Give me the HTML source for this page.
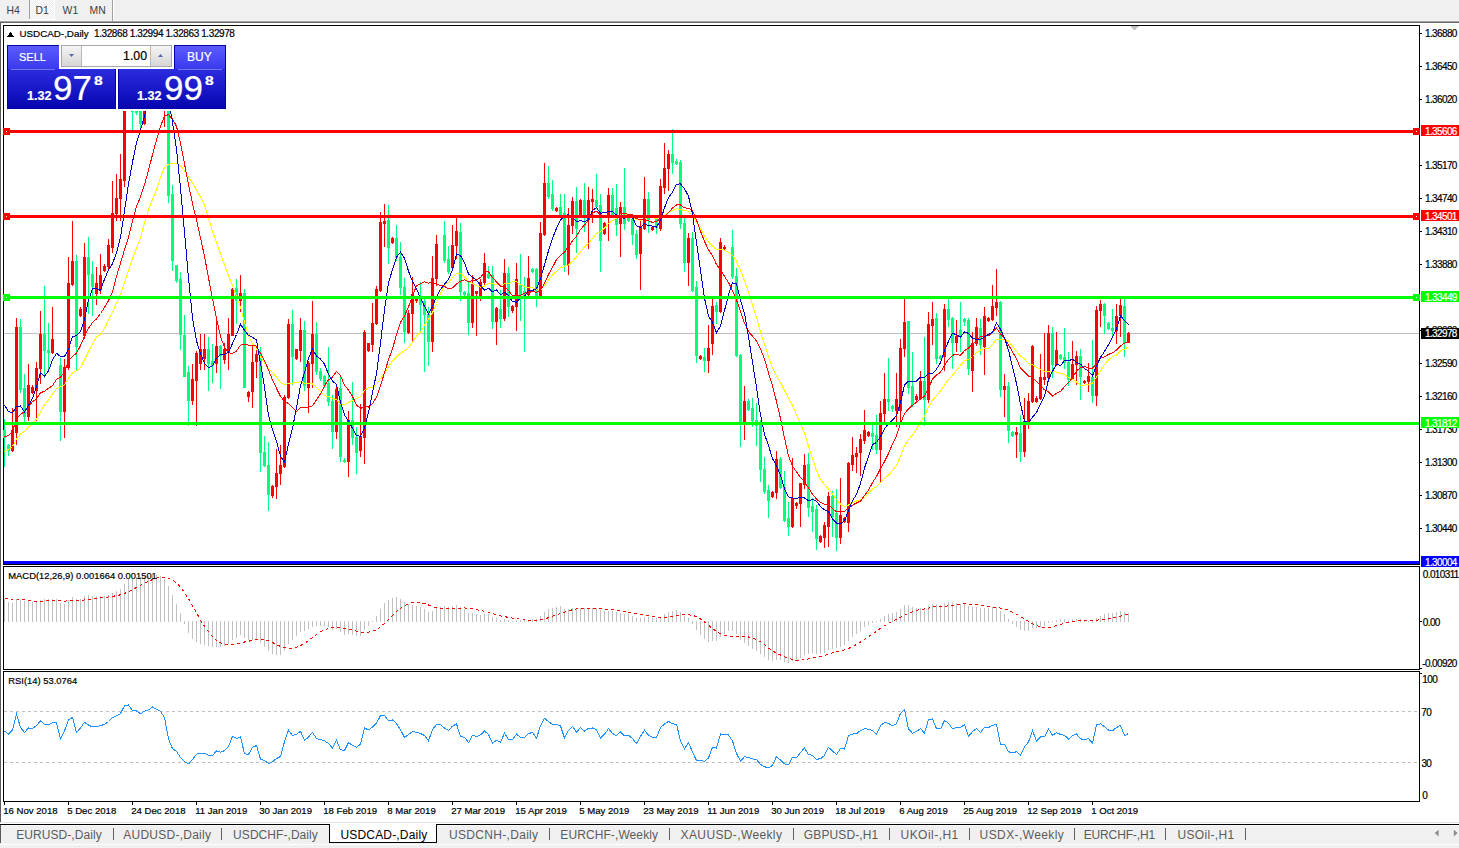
<!DOCTYPE html>
<html><head><meta charset="utf-8"><style>
html,body{margin:0;padding:0;width:1459px;height:848px;overflow:hidden;background:#fff;}
.t{position:absolute;white-space:nowrap;font-family:"Liberation Sans",sans-serif;line-height:1;-webkit-text-stroke:0.2px currentColor;}
.n{-webkit-text-stroke:0;}
</style></head><body>
<svg width="1459" height="848" viewBox="0 0 1459 848" style="position:absolute;left:0;top:0" shape-rendering="crispEdges"><rect x="0" y="0" width="1459" height="21" fill="#f0f0f0"/><rect x="0" y="20" width="1459" height="1" fill="#f6f6f6"/><rect x="0" y="21" width="1459" height="1" fill="#a0a0a0"/><rect x="0" y="22" width="1459" height="1" fill="#696969"/><defs><pattern id="ck" width="2" height="2" patternUnits="userSpaceOnUse"><rect width="2" height="2" fill="#ececec"/><rect width="1" height="1" fill="#fff"/><rect x="1" y="1" width="1" height="1" fill="#fff"/></pattern></defs><rect x="30" y="0" width="24" height="19" fill="url(#ck)"/><rect x="54" y="0" width="1" height="20" fill="#ffffff"/><rect x="29" y="19" width="26" height="1" fill="#ffffff"/><rect x="29" y="0" width="1" height="19" fill="#a0a0a0"/><rect x="112" y="0" width="1" height="21" fill="#a0a0a0"/><rect x="113" y="0" width="1" height="20" fill="#ffffff"/><rect x="0" y="23" width="1459" height="799" fill="#ffffff"/><rect x="0" y="23" width="1" height="799" fill="#5a5a5a"/><rect x="3" y="25" width="1417" height="1" fill="#000"/><rect x="3" y="564" width="1417" height="1" fill="#000"/><rect x="3" y="25" width="1" height="540" fill="#000"/><rect x="1419" y="25" width="1" height="540" fill="#000"/><rect x="3" y="566" width="1417" height="1" fill="#000"/><rect x="3" y="669" width="1417" height="1" fill="#000"/><rect x="3" y="566" width="1" height="104" fill="#000"/><rect x="1419" y="566" width="1" height="104" fill="#000"/><rect x="3" y="671" width="1417" height="1" fill="#000"/><rect x="3" y="801" width="1417" height="1" fill="#000"/><rect x="3" y="671" width="1" height="131" fill="#000"/><rect x="1419" y="671" width="1" height="131" fill="#000"/><rect x="1420" y="33" width="2" height="1" fill="#000"/><rect x="1420" y="66" width="2" height="1" fill="#000"/><rect x="1420" y="99" width="2" height="1" fill="#000"/><rect x="1420" y="165" width="2" height="1" fill="#000"/><rect x="1420" y="198" width="2" height="1" fill="#000"/><rect x="1420" y="231" width="2" height="1" fill="#000"/><rect x="1420" y="264" width="2" height="1" fill="#000"/><rect x="1420" y="330" width="2" height="1" fill="#000"/><rect x="1420" y="363" width="2" height="1" fill="#000"/><rect x="1420" y="396" width="2" height="1" fill="#000"/><rect x="1420" y="429" width="2" height="1" fill="#000"/><rect x="1420" y="462" width="2" height="1" fill="#000"/><rect x="1420" y="495" width="2" height="1" fill="#000"/><rect x="1420" y="528" width="2" height="1" fill="#000"/><rect x="4" y="333" width="1415" height="1" fill="#c0c0c0"/><rect x="1420" y="621" width="2" height="1" fill="#000"/><rect x="1420" y="668" width="2" height="1" fill="#000"/><rect x="1420" y="673" width="2" height="1" fill="#000"/><line x1="4" y1="711.5" x2="1419" y2="711.5" stroke="#c0c0c0" stroke-width="1" stroke-dasharray="3,3"/><line x1="4" y1="762.5" x2="1419" y2="762.5" stroke="#c0c0c0" stroke-width="1" stroke-dasharray="3,3"/><rect x="4" y="802" width="1" height="3" fill="#000"/><rect x="68" y="802" width="1" height="3" fill="#000"/><rect x="132" y="802" width="1" height="3" fill="#000"/><rect x="196" y="802" width="1" height="3" fill="#000"/><rect x="260" y="802" width="1" height="3" fill="#000"/><rect x="324" y="802" width="1" height="3" fill="#000"/><rect x="388" y="802" width="1" height="3" fill="#000"/><rect x="452" y="802" width="1" height="3" fill="#000"/><rect x="516" y="802" width="1" height="3" fill="#000"/><rect x="580" y="802" width="1" height="3" fill="#000"/><rect x="644" y="802" width="1" height="3" fill="#000"/><rect x="708" y="802" width="1" height="3" fill="#000"/><rect x="772" y="802" width="1" height="3" fill="#000"/><rect x="836" y="802" width="1" height="3" fill="#000"/><rect x="900" y="802" width="1" height="3" fill="#000"/><rect x="964" y="802" width="1" height="3" fill="#000"/><rect x="1028" y="802" width="1" height="3" fill="#000"/><rect x="1092" y="802" width="1" height="3" fill="#000"/><path d="M1130 26 L1139 26 L1134.5 30.5 Z" fill="#c0c0c0" shape-rendering="auto"/><path d="M7 36.5 L10.5 32 L14 36.5 Z" fill="#000"/><rect x="0" y="822" width="1459" height="1" fill="#e3e3e3"/><rect x="0" y="823" width="1459" height="1" fill="#ffffff"/><rect x="0" y="824" width="1459" height="1" fill="#000"/><rect x="0" y="825" width="1459" height="1" fill="#fafafa"/><rect x="0" y="826" width="1459" height="18" fill="#f0f0f0"/><rect x="0" y="844" width="1459" height="1" fill="#ffffff"/><rect x="0" y="845" width="1459" height="3" fill="#f0f0f0"/><rect x="0" y="825" width="1" height="18" fill="#5a5a5a"/><rect x="113" y="828" width="1" height="12" fill="#606060"/><rect x="221" y="828" width="1" height="12" fill="#606060"/><rect x="549" y="828" width="1" height="12" fill="#606060"/><rect x="669" y="828" width="1" height="12" fill="#606060"/><rect x="793" y="828" width="1" height="12" fill="#606060"/><rect x="889" y="828" width="1" height="12" fill="#606060"/><rect x="969" y="828" width="1" height="12" fill="#606060"/><rect x="1074" y="828" width="1" height="12" fill="#606060"/><rect x="1165" y="828" width="1" height="12" fill="#606060"/><rect x="1245" y="828" width="1" height="12" fill="#606060"/><rect x="329" y="824" width="108" height="19" fill="#000"/><rect x="330" y="824" width="106" height="18" fill="#fff"/><path d="M1434.8 833 L1438.6 829.8 L1438.6 836.4 Z" fill="#8c8c8c" shape-rendering="auto"/><path d="M1457.6 833 L1453.8 829.8 L1453.8 836.4 Z" fill="#8c8c8c" shape-rendering="auto"/><rect x="4" y="419" width="1" height="48" fill="#00ff7f"/><rect x="3" y="430" width="3" height="8" fill="#00ff7f"/><rect x="8" y="444" width="1" height="12" fill="#00ff7f"/><rect x="7" y="445" width="3" height="6" fill="#00ff7f"/><rect x="12" y="408" width="1" height="44" fill="#ff0000"/><rect x="11" y="430" width="3" height="21" fill="#ff0000"/><rect x="16" y="318" width="1" height="127" fill="#ff0000"/><rect x="15" y="327" width="3" height="106" fill="#ff0000"/><rect x="20" y="319" width="1" height="74" fill="#00ff7f"/><rect x="19" y="327" width="3" height="63" fill="#00ff7f"/><rect x="24" y="374" width="1" height="49" fill="#00ff7f"/><rect x="23" y="388" width="3" height="29" fill="#00ff7f"/><rect x="28" y="364" width="1" height="57" fill="#ff0000"/><rect x="27" y="385" width="3" height="32" fill="#ff0000"/><rect x="32" y="385" width="1" height="9" fill="#ff0000"/><rect x="31" y="387" width="3" height="6" fill="#ff0000"/><rect x="36" y="362" width="1" height="59" fill="#ff0000"/><rect x="35" y="368" width="3" height="23" fill="#ff0000"/><rect x="40" y="311" width="1" height="73" fill="#ff0000"/><rect x="39" y="334" width="3" height="35" fill="#ff0000"/><rect x="44" y="286" width="1" height="92" fill="#00ff7f"/><rect x="43" y="334" width="3" height="17" fill="#00ff7f"/><rect x="48" y="323" width="1" height="46" fill="#00ff7f"/><rect x="47" y="350" width="3" height="3" fill="#00ff7f"/><rect x="52" y="307" width="1" height="47" fill="#ff0000"/><rect x="51" y="339" width="3" height="14" fill="#ff0000"/><rect x="60" y="358" width="1" height="83" fill="#00ff7f"/><rect x="59" y="365" width="3" height="47" fill="#00ff7f"/><rect x="64" y="359" width="1" height="79" fill="#ff0000"/><rect x="63" y="367" width="3" height="45" fill="#ff0000"/><rect x="68" y="257" width="1" height="113" fill="#ff0000"/><rect x="67" y="283" width="3" height="85" fill="#ff0000"/><rect x="72" y="221" width="1" height="65" fill="#ff0000"/><rect x="71" y="261" width="3" height="24" fill="#ff0000"/><rect x="76" y="255" width="1" height="115" fill="#00ff7f"/><rect x="75" y="261" width="3" height="86" fill="#00ff7f"/><rect x="80" y="307" width="1" height="10" fill="#ff0000"/><rect x="79" y="309" width="3" height="7" fill="#ff0000"/><rect x="84" y="243" width="1" height="96" fill="#ff0000"/><rect x="83" y="257" width="3" height="79" fill="#ff0000"/><rect x="88" y="237" width="1" height="77" fill="#00ff7f"/><rect x="87" y="257" width="3" height="18" fill="#00ff7f"/><rect x="92" y="261" width="1" height="55" fill="#00ff7f"/><rect x="91" y="274" width="3" height="13" fill="#00ff7f"/><rect x="96" y="267" width="1" height="38" fill="#ff0000"/><rect x="95" y="283" width="3" height="11" fill="#ff0000"/><rect x="100" y="254" width="1" height="40" fill="#ff0000"/><rect x="99" y="275" width="3" height="15" fill="#ff0000"/><rect x="104" y="264" width="1" height="8" fill="#ff0000"/><rect x="103" y="266" width="3" height="5" fill="#ff0000"/><rect x="108" y="239" width="1" height="30" fill="#ff0000"/><rect x="107" y="245" width="3" height="22" fill="#ff0000"/><rect x="112" y="181" width="1" height="72" fill="#ff0000"/><rect x="111" y="213" width="3" height="35" fill="#ff0000"/><rect x="116" y="174" width="1" height="47" fill="#ff0000"/><rect x="115" y="198" width="3" height="16" fill="#ff0000"/><rect x="120" y="154" width="1" height="67" fill="#ff0000"/><rect x="119" y="179" width="3" height="20" fill="#ff0000"/><rect x="124" y="78" width="1" height="109" fill="#ff0000"/><rect x="123" y="86" width="3" height="95" fill="#ff0000"/><rect x="128" y="80" width="1" height="9" fill="#ff0000"/><rect x="127" y="82" width="3" height="5" fill="#ff0000"/><rect x="132" y="70" width="1" height="61" fill="#00ff7f"/><rect x="131" y="78" width="3" height="34" fill="#00ff7f"/><rect x="136" y="105" width="1" height="10" fill="#00ff7f"/><rect x="135" y="108" width="3" height="5" fill="#00ff7f"/><rect x="140" y="88" width="1" height="42" fill="#00ff7f"/><rect x="139" y="100" width="3" height="24" fill="#00ff7f"/><rect x="144" y="85" width="1" height="40" fill="#ff0000"/><rect x="143" y="92" width="3" height="32" fill="#ff0000"/><rect x="148" y="68" width="1" height="29" fill="#ff0000"/><rect x="147" y="76" width="3" height="18" fill="#ff0000"/><rect x="152" y="70" width="1" height="9" fill="#ff0000"/><rect x="151" y="72" width="3" height="5" fill="#ff0000"/><rect x="156" y="50" width="1" height="36" fill="#ff0000"/><rect x="155" y="60" width="3" height="15" fill="#ff0000"/><rect x="160" y="55" width="1" height="36" fill="#00ff7f"/><rect x="159" y="60" width="3" height="21" fill="#00ff7f"/><rect x="164" y="75" width="1" height="52" fill="#ff0000"/><rect x="163" y="82" width="3" height="21" fill="#ff0000"/><rect x="168" y="95" width="1" height="108" fill="#00ff7f"/><rect x="167" y="100" width="3" height="96" fill="#00ff7f"/><rect x="172" y="185" width="1" height="86" fill="#00ff7f"/><rect x="171" y="194" width="3" height="67" fill="#00ff7f"/><rect x="176" y="265" width="1" height="18" fill="#00ff7f"/><rect x="175" y="265" width="3" height="16" fill="#00ff7f"/><rect x="180" y="272" width="1" height="78" fill="#00ff7f"/><rect x="179" y="279" width="3" height="56" fill="#00ff7f"/><rect x="184" y="315" width="1" height="62" fill="#00ff7f"/><rect x="183" y="335" width="3" height="42" fill="#00ff7f"/><rect x="188" y="366" width="1" height="60" fill="#00ff7f"/><rect x="187" y="372" width="3" height="29" fill="#00ff7f"/><rect x="192" y="364" width="1" height="41" fill="#ff0000"/><rect x="191" y="379" width="3" height="22" fill="#ff0000"/><rect x="196" y="351" width="1" height="75" fill="#ff0000"/><rect x="195" y="353" width="3" height="28" fill="#ff0000"/><rect x="200" y="334" width="1" height="36" fill="#ff0000"/><rect x="199" y="349" width="3" height="15" fill="#ff0000"/><rect x="204" y="334" width="1" height="36" fill="#ff0000"/><rect x="203" y="349" width="3" height="10" fill="#ff0000"/><rect x="208" y="337" width="1" height="54" fill="#00ff7f"/><rect x="207" y="349" width="3" height="15" fill="#00ff7f"/><rect x="212" y="344" width="1" height="39" fill="#00ff7f"/><rect x="211" y="361" width="3" height="5" fill="#00ff7f"/><rect x="216" y="319" width="1" height="54" fill="#ff0000"/><rect x="215" y="346" width="3" height="18" fill="#ff0000"/><rect x="220" y="345" width="1" height="44" fill="#00ff7f"/><rect x="219" y="346" width="3" height="10" fill="#00ff7f"/><rect x="224" y="343" width="1" height="21" fill="#ff0000"/><rect x="223" y="349" width="3" height="11" fill="#ff0000"/><rect x="228" y="318" width="1" height="52" fill="#ff0000"/><rect x="227" y="334" width="3" height="18" fill="#ff0000"/><rect x="232" y="288" width="1" height="48" fill="#ff0000"/><rect x="231" y="289" width="3" height="47" fill="#ff0000"/><rect x="236" y="279" width="1" height="45" fill="#00ff7f"/><rect x="235" y="288" width="3" height="13" fill="#00ff7f"/><rect x="240" y="275" width="1" height="37" fill="#ff0000"/><rect x="239" y="293" width="3" height="8" fill="#ff0000"/><rect x="244" y="289" width="1" height="99" fill="#00ff7f"/><rect x="243" y="293" width="3" height="95" fill="#00ff7f"/><rect x="248" y="391" width="1" height="11" fill="#ff0000"/><rect x="247" y="392" width="3" height="5" fill="#ff0000"/><rect x="252" y="345" width="1" height="63" fill="#ff0000"/><rect x="251" y="362" width="3" height="30" fill="#ff0000"/><rect x="256" y="346" width="1" height="32" fill="#ff0000"/><rect x="255" y="354" width="3" height="8" fill="#ff0000"/><rect x="260" y="347" width="1" height="125" fill="#00ff7f"/><rect x="259" y="353" width="3" height="100" fill="#00ff7f"/><rect x="264" y="436" width="1" height="31" fill="#00ff7f"/><rect x="263" y="452" width="3" height="14" fill="#00ff7f"/><rect x="268" y="442" width="1" height="69" fill="#00ff7f"/><rect x="267" y="465" width="3" height="30" fill="#00ff7f"/><rect x="272" y="485" width="1" height="13" fill="#ff0000"/><rect x="271" y="486" width="3" height="10" fill="#ff0000"/><rect x="276" y="449" width="1" height="50" fill="#ff0000"/><rect x="275" y="473" width="3" height="14" fill="#ff0000"/><rect x="280" y="445" width="1" height="40" fill="#ff0000"/><rect x="279" y="465" width="3" height="9" fill="#ff0000"/><rect x="284" y="395" width="1" height="73" fill="#ff0000"/><rect x="283" y="397" width="3" height="70" fill="#ff0000"/><rect x="288" y="319" width="1" height="80" fill="#ff0000"/><rect x="287" y="324" width="3" height="74" fill="#ff0000"/><rect x="292" y="310" width="1" height="75" fill="#00ff7f"/><rect x="291" y="324" width="3" height="33" fill="#00ff7f"/><rect x="296" y="349" width="1" height="11" fill="#ff0000"/><rect x="295" y="349" width="3" height="10" fill="#ff0000"/><rect x="300" y="318" width="1" height="44" fill="#ff0000"/><rect x="299" y="330" width="3" height="21" fill="#ff0000"/><rect x="304" y="321" width="1" height="70" fill="#00ff7f"/><rect x="303" y="330" width="3" height="56" fill="#00ff7f"/><rect x="308" y="361" width="1" height="52" fill="#ff0000"/><rect x="307" y="363" width="3" height="25" fill="#ff0000"/><rect x="312" y="301" width="1" height="87" fill="#ff0000"/><rect x="311" y="334" width="3" height="30" fill="#ff0000"/><rect x="316" y="322" width="1" height="53" fill="#00ff7f"/><rect x="315" y="334" width="3" height="38" fill="#00ff7f"/><rect x="320" y="368" width="1" height="13" fill="#00ff7f"/><rect x="319" y="371" width="3" height="8" fill="#00ff7f"/><rect x="324" y="375" width="1" height="13" fill="#00ff7f"/><rect x="323" y="376" width="3" height="10" fill="#00ff7f"/><rect x="328" y="347" width="1" height="59" fill="#00ff7f"/><rect x="327" y="383" width="3" height="19" fill="#00ff7f"/><rect x="332" y="395" width="1" height="54" fill="#00ff7f"/><rect x="331" y="401" width="3" height="31" fill="#00ff7f"/><rect x="336" y="385" width="1" height="54" fill="#ff0000"/><rect x="335" y="389" width="3" height="43" fill="#ff0000"/><rect x="340" y="377" width="1" height="85" fill="#00ff7f"/><rect x="339" y="388" width="3" height="69" fill="#00ff7f"/><rect x="344" y="458" width="1" height="5" fill="#00ff7f"/><rect x="343" y="460" width="3" height="2" fill="#00ff7f"/><rect x="348" y="411" width="1" height="66" fill="#ff0000"/><rect x="347" y="420" width="3" height="42" fill="#ff0000"/><rect x="352" y="382" width="1" height="63" fill="#00ff7f"/><rect x="351" y="420" width="3" height="18" fill="#00ff7f"/><rect x="356" y="427" width="1" height="47" fill="#00ff7f"/><rect x="355" y="437" width="3" height="16" fill="#00ff7f"/><rect x="360" y="404" width="1" height="53" fill="#ff0000"/><rect x="359" y="436" width="3" height="15" fill="#ff0000"/><rect x="364" y="330" width="1" height="134" fill="#ff0000"/><rect x="363" y="332" width="3" height="106" fill="#ff0000"/><rect x="368" y="343" width="1" height="9" fill="#ff0000"/><rect x="367" y="343" width="3" height="8" fill="#ff0000"/><rect x="372" y="303" width="1" height="49" fill="#ff0000"/><rect x="371" y="323" width="3" height="22" fill="#ff0000"/><rect x="376" y="286" width="1" height="39" fill="#ff0000"/><rect x="375" y="289" width="3" height="35" fill="#ff0000"/><rect x="380" y="212" width="1" height="80" fill="#ff0000"/><rect x="379" y="222" width="3" height="69" fill="#ff0000"/><rect x="384" y="204" width="1" height="43" fill="#ff0000"/><rect x="383" y="221" width="3" height="3" fill="#ff0000"/><rect x="388" y="205" width="1" height="59" fill="#00ff7f"/><rect x="387" y="220" width="3" height="28" fill="#00ff7f"/><rect x="392" y="237" width="1" height="7" fill="#ff0000"/><rect x="391" y="238" width="3" height="5" fill="#ff0000"/><rect x="396" y="225" width="1" height="36" fill="#00ff7f"/><rect x="395" y="238" width="3" height="20" fill="#00ff7f"/><rect x="400" y="242" width="1" height="53" fill="#00ff7f"/><rect x="399" y="257" width="3" height="31" fill="#00ff7f"/><rect x="404" y="278" width="1" height="65" fill="#00ff7f"/><rect x="403" y="287" width="3" height="45" fill="#00ff7f"/><rect x="408" y="310" width="1" height="24" fill="#ff0000"/><rect x="407" y="313" width="3" height="20" fill="#ff0000"/><rect x="412" y="277" width="1" height="65" fill="#ff0000"/><rect x="411" y="294" width="3" height="20" fill="#ff0000"/><rect x="416" y="296" width="1" height="7" fill="#ff0000"/><rect x="415" y="298" width="3" height="3" fill="#ff0000"/><rect x="420" y="282" width="1" height="51" fill="#00ff7f"/><rect x="419" y="298" width="3" height="7" fill="#00ff7f"/><rect x="424" y="298" width="1" height="74" fill="#00ff7f"/><rect x="423" y="301" width="3" height="14" fill="#00ff7f"/><rect x="428" y="307" width="1" height="59" fill="#00ff7f"/><rect x="427" y="314" width="3" height="28" fill="#00ff7f"/><rect x="432" y="256" width="1" height="96" fill="#ff0000"/><rect x="431" y="278" width="3" height="64" fill="#ff0000"/><rect x="436" y="235" width="1" height="51" fill="#ff0000"/><rect x="435" y="244" width="3" height="35" fill="#ff0000"/><rect x="444" y="221" width="1" height="42" fill="#00ff7f"/><rect x="443" y="235" width="3" height="26" fill="#00ff7f"/><rect x="448" y="246" width="1" height="28" fill="#00ff7f"/><rect x="447" y="259" width="3" height="13" fill="#00ff7f"/><rect x="452" y="225" width="1" height="44" fill="#ff0000"/><rect x="451" y="245" width="3" height="23" fill="#ff0000"/><rect x="456" y="217" width="1" height="42" fill="#ff0000"/><rect x="455" y="231" width="3" height="15" fill="#ff0000"/><rect x="460" y="223" width="1" height="78" fill="#00ff7f"/><rect x="459" y="232" width="3" height="60" fill="#00ff7f"/><rect x="464" y="291" width="1" height="5" fill="#00ff7f"/><rect x="463" y="292" width="3" height="3" fill="#00ff7f"/><rect x="468" y="282" width="1" height="53" fill="#00ff7f"/><rect x="467" y="293" width="3" height="30" fill="#00ff7f"/><rect x="472" y="275" width="1" height="53" fill="#ff0000"/><rect x="471" y="284" width="3" height="39" fill="#ff0000"/><rect x="476" y="291" width="1" height="45" fill="#ff0000"/><rect x="475" y="291" width="3" height="3" fill="#ff0000"/><rect x="480" y="279" width="1" height="22" fill="#ff0000"/><rect x="479" y="282" width="3" height="14" fill="#ff0000"/><rect x="484" y="253" width="1" height="33" fill="#ff0000"/><rect x="483" y="263" width="3" height="20" fill="#ff0000"/><rect x="488" y="266" width="1" height="13" fill="#00ff7f"/><rect x="487" y="274" width="3" height="4" fill="#00ff7f"/><rect x="492" y="266" width="1" height="63" fill="#00ff7f"/><rect x="491" y="275" width="3" height="47" fill="#00ff7f"/><rect x="496" y="307" width="1" height="38" fill="#ff0000"/><rect x="495" y="308" width="3" height="14" fill="#ff0000"/><rect x="500" y="290" width="1" height="38" fill="#00ff7f"/><rect x="499" y="309" width="3" height="10" fill="#00ff7f"/><rect x="504" y="259" width="1" height="62" fill="#ff0000"/><rect x="503" y="273" width="3" height="46" fill="#ff0000"/><rect x="508" y="267" width="1" height="50" fill="#00ff7f"/><rect x="507" y="273" width="3" height="34" fill="#00ff7f"/><rect x="512" y="305" width="1" height="8" fill="#ff0000"/><rect x="511" y="306" width="3" height="5" fill="#ff0000"/><rect x="516" y="263" width="1" height="68" fill="#ff0000"/><rect x="515" y="279" width="3" height="28" fill="#ff0000"/><rect x="520" y="254" width="1" height="67" fill="#00ff7f"/><rect x="519" y="285" width="3" height="10" fill="#00ff7f"/><rect x="524" y="277" width="1" height="75" fill="#00ff7f"/><rect x="523" y="291" width="3" height="5" fill="#00ff7f"/><rect x="528" y="256" width="1" height="40" fill="#ff0000"/><rect x="527" y="278" width="3" height="17" fill="#ff0000"/><rect x="532" y="268" width="1" height="5" fill="#00ff7f"/><rect x="531" y="269" width="3" height="3" fill="#00ff7f"/><rect x="536" y="268" width="1" height="39" fill="#00ff7f"/><rect x="535" y="269" width="3" height="28" fill="#00ff7f"/><rect x="540" y="222" width="1" height="76" fill="#ff0000"/><rect x="539" y="233" width="3" height="64" fill="#ff0000"/><rect x="544" y="163" width="1" height="73" fill="#ff0000"/><rect x="543" y="183" width="3" height="52" fill="#ff0000"/><rect x="548" y="166" width="1" height="33" fill="#00ff7f"/><rect x="547" y="183" width="3" height="14" fill="#00ff7f"/><rect x="552" y="180" width="1" height="31" fill="#00ff7f"/><rect x="551" y="194" width="3" height="15" fill="#00ff7f"/><rect x="556" y="207" width="1" height="5" fill="#ff0000"/><rect x="555" y="208" width="3" height="3" fill="#ff0000"/><rect x="560" y="194" width="1" height="22" fill="#00ff7f"/><rect x="559" y="207" width="3" height="8" fill="#00ff7f"/><rect x="564" y="194" width="1" height="78" fill="#00ff7f"/><rect x="563" y="213" width="3" height="52" fill="#00ff7f"/><rect x="568" y="208" width="1" height="67" fill="#ff0000"/><rect x="567" y="225" width="3" height="40" fill="#ff0000"/><rect x="572" y="197" width="1" height="37" fill="#ff0000"/><rect x="571" y="201" width="3" height="25" fill="#ff0000"/><rect x="576" y="187" width="1" height="66" fill="#00ff7f"/><rect x="575" y="201" width="3" height="28" fill="#00ff7f"/><rect x="580" y="199" width="1" height="17" fill="#ff0000"/><rect x="579" y="200" width="3" height="15" fill="#ff0000"/><rect x="584" y="183" width="1" height="49" fill="#00ff7f"/><rect x="583" y="200" width="3" height="17" fill="#00ff7f"/><rect x="588" y="187" width="1" height="62" fill="#ff0000"/><rect x="587" y="200" width="3" height="20" fill="#ff0000"/><rect x="592" y="189" width="1" height="34" fill="#ff0000"/><rect x="591" y="199" width="3" height="3" fill="#ff0000"/><rect x="596" y="174" width="1" height="35" fill="#00ff7f"/><rect x="595" y="200" width="3" height="7" fill="#00ff7f"/><rect x="600" y="194" width="1" height="78" fill="#00ff7f"/><rect x="599" y="205" width="3" height="36" fill="#00ff7f"/><rect x="604" y="222" width="1" height="13" fill="#ff0000"/><rect x="603" y="223" width="3" height="11" fill="#ff0000"/><rect x="608" y="188" width="1" height="53" fill="#ff0000"/><rect x="607" y="195" width="3" height="22" fill="#ff0000"/><rect x="612" y="188" width="1" height="30" fill="#00ff7f"/><rect x="611" y="195" width="3" height="21" fill="#00ff7f"/><rect x="616" y="184" width="1" height="52" fill="#00ff7f"/><rect x="615" y="208" width="3" height="17" fill="#00ff7f"/><rect x="620" y="202" width="1" height="55" fill="#ff0000"/><rect x="619" y="207" width="3" height="17" fill="#ff0000"/><rect x="624" y="168" width="1" height="62" fill="#00ff7f"/><rect x="623" y="207" width="3" height="17" fill="#00ff7f"/><rect x="628" y="216" width="1" height="6" fill="#00ff7f"/><rect x="627" y="218" width="3" height="3" fill="#00ff7f"/><rect x="632" y="215" width="1" height="30" fill="#00ff7f"/><rect x="631" y="219" width="3" height="16" fill="#00ff7f"/><rect x="636" y="230" width="1" height="29" fill="#00ff7f"/><rect x="635" y="234" width="3" height="21" fill="#00ff7f"/><rect x="640" y="220" width="1" height="70" fill="#ff0000"/><rect x="639" y="226" width="3" height="28" fill="#ff0000"/><rect x="644" y="177" width="1" height="53" fill="#ff0000"/><rect x="643" y="199" width="3" height="30" fill="#ff0000"/><rect x="648" y="192" width="1" height="41" fill="#00ff7f"/><rect x="647" y="199" width="3" height="21" fill="#00ff7f"/><rect x="652" y="226" width="1" height="5" fill="#ff0000"/><rect x="651" y="227" width="3" height="3" fill="#ff0000"/><rect x="656" y="217" width="1" height="17" fill="#00ff7f"/><rect x="655" y="219" width="3" height="9" fill="#00ff7f"/><rect x="660" y="179" width="1" height="52" fill="#ff0000"/><rect x="659" y="186" width="3" height="43" fill="#ff0000"/><rect x="664" y="143" width="1" height="51" fill="#ff0000"/><rect x="663" y="168" width="3" height="20" fill="#ff0000"/><rect x="668" y="150" width="1" height="41" fill="#ff0000"/><rect x="667" y="154" width="3" height="15" fill="#ff0000"/><rect x="672" y="129" width="1" height="45" fill="#00ff7f"/><rect x="671" y="154" width="3" height="9" fill="#00ff7f"/><rect x="676" y="159" width="1" height="6" fill="#00ff7f"/><rect x="675" y="161" width="3" height="3" fill="#00ff7f"/><rect x="680" y="160" width="1" height="69" fill="#00ff7f"/><rect x="679" y="162" width="3" height="62" fill="#00ff7f"/><rect x="684" y="217" width="1" height="55" fill="#00ff7f"/><rect x="683" y="223" width="3" height="40" fill="#00ff7f"/><rect x="688" y="233" width="1" height="53" fill="#ff0000"/><rect x="687" y="238" width="3" height="25" fill="#ff0000"/><rect x="692" y="232" width="1" height="60" fill="#00ff7f"/><rect x="691" y="238" width="3" height="53" fill="#00ff7f"/><rect x="696" y="281" width="1" height="82" fill="#00ff7f"/><rect x="695" y="287" width="3" height="69" fill="#00ff7f"/><rect x="700" y="355" width="1" height="5" fill="#ff0000"/><rect x="699" y="356" width="3" height="3" fill="#ff0000"/><rect x="704" y="348" width="1" height="24" fill="#00ff7f"/><rect x="703" y="357" width="3" height="4" fill="#00ff7f"/><rect x="708" y="325" width="1" height="48" fill="#ff0000"/><rect x="707" y="348" width="3" height="13" fill="#ff0000"/><rect x="712" y="299" width="1" height="56" fill="#ff0000"/><rect x="711" y="306" width="3" height="38" fill="#ff0000"/><rect x="716" y="302" width="1" height="22" fill="#00ff7f"/><rect x="715" y="305" width="3" height="7" fill="#00ff7f"/><rect x="720" y="238" width="1" height="75" fill="#ff0000"/><rect x="719" y="242" width="3" height="70" fill="#ff0000"/><rect x="724" y="245" width="1" height="6" fill="#ff0000"/><rect x="723" y="247" width="3" height="2" fill="#ff0000"/><rect x="732" y="230" width="1" height="49" fill="#00ff7f"/><rect x="731" y="247" width="3" height="30" fill="#00ff7f"/><rect x="736" y="268" width="1" height="89" fill="#00ff7f"/><rect x="735" y="276" width="3" height="80" fill="#00ff7f"/><rect x="740" y="354" width="1" height="93" fill="#00ff7f"/><rect x="739" y="355" width="3" height="68" fill="#00ff7f"/><rect x="744" y="386" width="1" height="54" fill="#ff0000"/><rect x="743" y="401" width="3" height="22" fill="#ff0000"/><rect x="748" y="399" width="1" height="12" fill="#00ff7f"/><rect x="747" y="401" width="3" height="9" fill="#00ff7f"/><rect x="752" y="398" width="1" height="29" fill="#00ff7f"/><rect x="751" y="408" width="3" height="13" fill="#00ff7f"/><rect x="756" y="403" width="1" height="43" fill="#00ff7f"/><rect x="755" y="420" width="3" height="6" fill="#00ff7f"/><rect x="760" y="420" width="1" height="62" fill="#00ff7f"/><rect x="759" y="424" width="3" height="46" fill="#00ff7f"/><rect x="764" y="457" width="1" height="37" fill="#00ff7f"/><rect x="763" y="469" width="3" height="23" fill="#00ff7f"/><rect x="768" y="485" width="1" height="33" fill="#00ff7f"/><rect x="767" y="490" width="3" height="11" fill="#00ff7f"/><rect x="772" y="491" width="1" height="7" fill="#ff0000"/><rect x="771" y="492" width="3" height="5" fill="#ff0000"/><rect x="776" y="451" width="1" height="48" fill="#ff0000"/><rect x="775" y="459" width="3" height="34" fill="#ff0000"/><rect x="780" y="457" width="1" height="32" fill="#00ff7f"/><rect x="779" y="459" width="3" height="29" fill="#00ff7f"/><rect x="784" y="471" width="1" height="51" fill="#00ff7f"/><rect x="783" y="487" width="3" height="34" fill="#00ff7f"/><rect x="788" y="502" width="1" height="34" fill="#00ff7f"/><rect x="787" y="518" width="3" height="9" fill="#00ff7f"/><rect x="792" y="458" width="1" height="70" fill="#ff0000"/><rect x="791" y="498" width="3" height="29" fill="#ff0000"/><rect x="796" y="502" width="1" height="7" fill="#ff0000"/><rect x="795" y="503" width="3" height="3" fill="#ff0000"/><rect x="800" y="483" width="1" height="44" fill="#ff0000"/><rect x="799" y="483" width="3" height="21" fill="#ff0000"/><rect x="804" y="454" width="1" height="35" fill="#ff0000"/><rect x="803" y="465" width="3" height="20" fill="#ff0000"/><rect x="808" y="453" width="1" height="64" fill="#00ff7f"/><rect x="807" y="464" width="3" height="44" fill="#00ff7f"/><rect x="812" y="498" width="1" height="34" fill="#00ff7f"/><rect x="811" y="506" width="3" height="6" fill="#00ff7f"/><rect x="816" y="505" width="1" height="45" fill="#00ff7f"/><rect x="815" y="509" width="3" height="30" fill="#00ff7f"/><rect x="820" y="535" width="1" height="8" fill="#ff0000"/><rect x="819" y="536" width="3" height="6" fill="#ff0000"/><rect x="824" y="522" width="1" height="26" fill="#ff0000"/><rect x="823" y="525" width="3" height="13" fill="#ff0000"/><rect x="828" y="492" width="1" height="55" fill="#ff0000"/><rect x="827" y="496" width="3" height="31" fill="#ff0000"/><rect x="832" y="491" width="1" height="46" fill="#00ff7f"/><rect x="831" y="496" width="3" height="21" fill="#00ff7f"/><rect x="836" y="489" width="1" height="62" fill="#00ff7f"/><rect x="835" y="513" width="3" height="25" fill="#00ff7f"/><rect x="840" y="478" width="1" height="66" fill="#ff0000"/><rect x="839" y="515" width="3" height="23" fill="#ff0000"/><rect x="844" y="517" width="1" height="6" fill="#ff0000"/><rect x="843" y="518" width="3" height="4" fill="#ff0000"/><rect x="848" y="462" width="1" height="70" fill="#ff0000"/><rect x="847" y="463" width="3" height="60" fill="#ff0000"/><rect x="852" y="437" width="1" height="34" fill="#ff0000"/><rect x="851" y="455" width="3" height="10" fill="#ff0000"/><rect x="856" y="447" width="1" height="26" fill="#ff0000"/><rect x="855" y="453" width="3" height="4" fill="#ff0000"/><rect x="860" y="434" width="1" height="42" fill="#ff0000"/><rect x="859" y="439" width="3" height="14" fill="#ff0000"/><rect x="864" y="410" width="1" height="34" fill="#ff0000"/><rect x="863" y="430" width="3" height="11" fill="#ff0000"/><rect x="868" y="431" width="1" height="6" fill="#ff0000"/><rect x="867" y="432" width="3" height="4" fill="#ff0000"/><rect x="872" y="425" width="1" height="25" fill="#00ff7f"/><rect x="871" y="433" width="3" height="4" fill="#00ff7f"/><rect x="876" y="415" width="1" height="39" fill="#00ff7f"/><rect x="875" y="435" width="3" height="15" fill="#00ff7f"/><rect x="880" y="401" width="1" height="82" fill="#ff0000"/><rect x="879" y="413" width="3" height="37" fill="#ff0000"/><rect x="884" y="373" width="1" height="50" fill="#ff0000"/><rect x="883" y="399" width="3" height="15" fill="#ff0000"/><rect x="888" y="358" width="1" height="53" fill="#00ff7f"/><rect x="887" y="399" width="3" height="3" fill="#00ff7f"/><rect x="892" y="405" width="1" height="7" fill="#00ff7f"/><rect x="891" y="406" width="3" height="3" fill="#00ff7f"/><rect x="896" y="373" width="1" height="54" fill="#ff0000"/><rect x="895" y="399" width="3" height="12" fill="#ff0000"/><rect x="900" y="339" width="1" height="84" fill="#ff0000"/><rect x="899" y="348" width="3" height="63" fill="#ff0000"/><rect x="904" y="299" width="1" height="58" fill="#ff0000"/><rect x="903" y="322" width="3" height="27" fill="#ff0000"/><rect x="908" y="321" width="1" height="73" fill="#00ff7f"/><rect x="907" y="321" width="3" height="67" fill="#00ff7f"/><rect x="912" y="352" width="1" height="55" fill="#00ff7f"/><rect x="911" y="386" width="3" height="19" fill="#00ff7f"/><rect x="916" y="394" width="1" height="7" fill="#ff0000"/><rect x="915" y="396" width="3" height="4" fill="#ff0000"/><rect x="920" y="371" width="1" height="29" fill="#ff0000"/><rect x="919" y="381" width="3" height="18" fill="#ff0000"/><rect x="924" y="337" width="1" height="89" fill="#00ff7f"/><rect x="923" y="381" width="3" height="19" fill="#00ff7f"/><rect x="928" y="312" width="1" height="91" fill="#ff0000"/><rect x="927" y="324" width="3" height="76" fill="#ff0000"/><rect x="932" y="302" width="1" height="43" fill="#ff0000"/><rect x="931" y="319" width="3" height="7" fill="#ff0000"/><rect x="936" y="313" width="1" height="51" fill="#00ff7f"/><rect x="935" y="318" width="3" height="41" fill="#00ff7f"/><rect x="940" y="355" width="1" height="5" fill="#00ff7f"/><rect x="939" y="356" width="3" height="3" fill="#00ff7f"/><rect x="944" y="304" width="1" height="67" fill="#ff0000"/><rect x="943" y="309" width="3" height="48" fill="#ff0000"/><rect x="948" y="299" width="1" height="28" fill="#00ff7f"/><rect x="947" y="309" width="3" height="11" fill="#00ff7f"/><rect x="952" y="317" width="1" height="52" fill="#00ff7f"/><rect x="951" y="318" width="3" height="25" fill="#00ff7f"/><rect x="956" y="320" width="1" height="32" fill="#ff0000"/><rect x="955" y="336" width="3" height="7" fill="#ff0000"/><rect x="960" y="302" width="1" height="50" fill="#00ff7f"/><rect x="959" y="330" width="3" height="6" fill="#00ff7f"/><rect x="964" y="318" width="1" height="8" fill="#00ff7f"/><rect x="963" y="319" width="3" height="3" fill="#00ff7f"/><rect x="968" y="318" width="1" height="57" fill="#00ff7f"/><rect x="967" y="320" width="3" height="49" fill="#00ff7f"/><rect x="972" y="332" width="1" height="60" fill="#ff0000"/><rect x="971" y="343" width="3" height="28" fill="#ff0000"/><rect x="976" y="318" width="1" height="28" fill="#ff0000"/><rect x="975" y="327" width="3" height="17" fill="#ff0000"/><rect x="980" y="319" width="1" height="36" fill="#00ff7f"/><rect x="979" y="328" width="3" height="17" fill="#00ff7f"/><rect x="984" y="307" width="1" height="68" fill="#ff0000"/><rect x="983" y="316" width="3" height="31" fill="#ff0000"/><rect x="988" y="317" width="1" height="5" fill="#ff0000"/><rect x="987" y="318" width="3" height="3" fill="#ff0000"/><rect x="992" y="285" width="1" height="36" fill="#ff0000"/><rect x="991" y="306" width="3" height="14" fill="#ff0000"/><rect x="996" y="269" width="1" height="47" fill="#ff0000"/><rect x="995" y="302" width="3" height="6" fill="#ff0000"/><rect x="1000" y="301" width="1" height="96" fill="#00ff7f"/><rect x="999" y="302" width="3" height="88" fill="#00ff7f"/><rect x="1004" y="374" width="1" height="43" fill="#ff0000"/><rect x="1003" y="386" width="3" height="4" fill="#ff0000"/><rect x="1008" y="382" width="1" height="61" fill="#00ff7f"/><rect x="1007" y="386" width="3" height="45" fill="#00ff7f"/><rect x="1012" y="431" width="1" height="6" fill="#00ff7f"/><rect x="1011" y="432" width="3" height="4" fill="#00ff7f"/><rect x="1016" y="427" width="1" height="31" fill="#ff0000"/><rect x="1015" y="432" width="3" height="3" fill="#ff0000"/><rect x="1020" y="415" width="1" height="47" fill="#00ff7f"/><rect x="1019" y="433" width="3" height="19" fill="#00ff7f"/><rect x="1024" y="398" width="1" height="59" fill="#ff0000"/><rect x="1023" y="421" width="3" height="31" fill="#ff0000"/><rect x="1028" y="393" width="1" height="36" fill="#ff0000"/><rect x="1027" y="401" width="3" height="21" fill="#ff0000"/><rect x="1032" y="345" width="1" height="58" fill="#ff0000"/><rect x="1031" y="346" width="3" height="56" fill="#ff0000"/><rect x="1036" y="396" width="1" height="7" fill="#ff0000"/><rect x="1035" y="398" width="3" height="4" fill="#ff0000"/><rect x="1040" y="354" width="1" height="46" fill="#ff0000"/><rect x="1039" y="377" width="3" height="22" fill="#ff0000"/><rect x="1044" y="333" width="1" height="52" fill="#ff0000"/><rect x="1043" y="377" width="3" height="3" fill="#ff0000"/><rect x="1048" y="325" width="1" height="54" fill="#ff0000"/><rect x="1047" y="333" width="3" height="45" fill="#ff0000"/><rect x="1052" y="327" width="1" height="51" fill="#00ff7f"/><rect x="1051" y="333" width="3" height="32" fill="#00ff7f"/><rect x="1056" y="332" width="1" height="34" fill="#ff0000"/><rect x="1055" y="350" width="3" height="15" fill="#ff0000"/><rect x="1060" y="354" width="1" height="6" fill="#00ff7f"/><rect x="1059" y="355" width="3" height="4" fill="#00ff7f"/><rect x="1064" y="328" width="1" height="41" fill="#00ff7f"/><rect x="1063" y="357" width="3" height="6" fill="#00ff7f"/><rect x="1068" y="352" width="1" height="34" fill="#00ff7f"/><rect x="1067" y="362" width="3" height="18" fill="#00ff7f"/><rect x="1072" y="341" width="1" height="39" fill="#ff0000"/><rect x="1071" y="364" width="3" height="15" fill="#ff0000"/><rect x="1076" y="351" width="1" height="34" fill="#ff0000"/><rect x="1075" y="356" width="3" height="9" fill="#ff0000"/><rect x="1080" y="349" width="1" height="51" fill="#00ff7f"/><rect x="1079" y="356" width="3" height="21" fill="#00ff7f"/><rect x="1084" y="380" width="1" height="4" fill="#ff0000"/><rect x="1083" y="381" width="3" height="2" fill="#ff0000"/><rect x="1088" y="363" width="1" height="29" fill="#ff0000"/><rect x="1087" y="376" width="3" height="6" fill="#ff0000"/><rect x="1092" y="340" width="1" height="63" fill="#00ff7f"/><rect x="1091" y="377" width="3" height="19" fill="#00ff7f"/><rect x="1096" y="306" width="1" height="100" fill="#ff0000"/><rect x="1095" y="310" width="3" height="86" fill="#ff0000"/><rect x="1100" y="300" width="1" height="27" fill="#ff0000"/><rect x="1099" y="304" width="3" height="7" fill="#ff0000"/><rect x="1104" y="303" width="1" height="31" fill="#00ff7f"/><rect x="1103" y="304" width="3" height="12" fill="#00ff7f"/><rect x="1108" y="322" width="1" height="8" fill="#00ff7f"/><rect x="1107" y="323" width="3" height="6" fill="#00ff7f"/><rect x="1112" y="309" width="1" height="28" fill="#00ff7f"/><rect x="1111" y="328" width="3" height="3" fill="#00ff7f"/><rect x="1116" y="304" width="1" height="40" fill="#ff0000"/><rect x="1115" y="316" width="3" height="15" fill="#ff0000"/><rect x="1120" y="299" width="1" height="38" fill="#ff0000"/><rect x="1119" y="305" width="3" height="11" fill="#ff0000"/><rect x="1124" y="299" width="1" height="58" fill="#00ff7f"/><rect x="1123" y="306" width="3" height="37" fill="#00ff7f"/><rect x="1128" y="332" width="1" height="11" fill="#ff0000"/><rect x="1127" y="333" width="3" height="10" fill="#ff0000"/><polyline points="4.5,451.7 8.5,449.5 12.5,446.5 16.5,439.1 20.5,434.0 24.5,431.4 28.5,427.0 32.5,423.9 36.5,419.1 40.5,411.8 44.5,404.5 48.5,399.9 52.5,394.2 56.5,388.6 60.5,386.7 64.5,384.8 68.5,378.3 72.5,373.0 76.5,370.8 80.5,367.7 84.5,359.4 88.5,351.6 92.5,343.8 96.5,336.8 100.5,334.4 104.5,328.5 108.5,320.4 112.5,312.2 116.5,303.2 120.5,294.2 124.5,282.9 128.5,270.4 132.5,258.9 136.5,248.1 140.5,237.8 144.5,223.0 148.5,209.7 152.5,199.2 156.5,190.1 160.5,177.3 164.5,167.3 168.5,164.3 172.5,163.7 176.5,163.4 180.5,165.8 184.5,170.6 188.5,177.0 192.5,183.4 196.5,190.0 200.5,197.2 204.5,205.3 208.5,218.0 212.5,231.2 216.5,242.4 220.5,254.0 224.5,264.7 228.5,275.9 232.5,285.4 236.5,296.7 240.5,307.3 244.5,322.1 248.5,336.1 252.5,344.1 256.5,348.5 260.5,356.7 264.5,363.0 268.5,368.6 272.5,372.7 276.5,377.2 280.5,382.5 284.5,384.8 288.5,383.6 292.5,383.3 296.5,382.5 300.5,381.7 304.5,383.2 308.5,383.8 312.5,383.8 316.5,387.7 320.5,391.5 324.5,395.8 328.5,396.5 332.5,398.4 336.5,399.6 340.5,404.5 344.5,404.9 348.5,402.8 352.5,400.1 356.5,398.5 360.5,396.7 364.5,390.4 368.5,387.8 372.5,387.7 376.5,384.5 380.5,378.5 384.5,373.3 388.5,366.7 392.5,360.8 396.5,357.1 400.5,353.1 404.5,350.9 408.5,347.5 412.5,342.4 416.5,336.0 420.5,332.0 424.5,325.2 428.5,319.5 432.5,312.7 436.5,303.5 440.5,293.6 444.5,285.3 448.5,282.4 452.5,277.7 456.5,273.3 460.5,273.4 464.5,276.8 468.5,281.6 472.5,283.4 476.5,285.9 480.5,287.1 484.5,286.0 488.5,283.4 492.5,283.8 496.5,284.5 500.5,285.4 504.5,283.9 508.5,283.5 512.5,281.9 516.5,281.9 520.5,284.3 524.5,286.7 528.5,287.6 532.5,287.6 536.5,290.0 540.5,290.1 544.5,285.0 548.5,280.3 552.5,274.9 556.5,271.3 560.5,267.6 564.5,266.7 568.5,264.9 572.5,261.3 576.5,256.9 580.5,251.7 584.5,246.9 588.5,243.4 592.5,238.3 596.5,233.5 600.5,231.7 604.5,228.3 608.5,223.5 612.5,220.5 616.5,218.3 620.5,214.1 624.5,213.6 628.5,215.4 632.5,217.2 636.5,219.4 640.5,220.2 644.5,219.5 648.5,217.4 652.5,217.5 656.5,218.7 660.5,216.7 664.5,215.2 668.5,212.2 672.5,210.4 676.5,208.7 680.5,209.5 684.5,210.5 688.5,211.3 692.5,215.8 696.5,222.5 700.5,228.7 704.5,236.0 708.5,242.0 712.5,246.1 716.5,249.7 720.5,249.2 724.5,250.2 728.5,252.5 732.5,255.2 736.5,261.3 740.5,270.5 744.5,280.8 748.5,292.3 752.5,304.9 756.5,317.5 760.5,332.0 764.5,344.8 768.5,356.1 772.5,368.2 776.5,376.3 780.5,382.5 784.5,390.4 788.5,398.3 792.5,405.4 796.5,414.8 800.5,423.0 804.5,433.6 808.5,446.0 812.5,458.5 816.5,471.0 820.5,479.6 824.5,484.5 828.5,489.1 832.5,494.2 836.5,499.7 840.5,504.0 844.5,506.4 848.5,505.0 852.5,502.9 856.5,501.0 860.5,500.1 864.5,497.4 868.5,493.2 872.5,488.9 876.5,486.5 880.5,482.3 884.5,478.3 888.5,475.2 892.5,470.5 896.5,465.2 900.5,456.1 904.5,445.9 908.5,439.4 912.5,435.0 916.5,429.3 920.5,421.8 924.5,416.3 928.5,407.1 932.5,400.2 936.5,395.6 940.5,391.1 944.5,384.9 948.5,379.6 952.5,375.3 956.5,370.5 960.5,365.1 964.5,360.7 968.5,359.3 972.5,356.5 976.5,352.6 980.5,350.0 984.5,348.5 988.5,348.3 992.5,344.5 996.5,339.6 1000.5,339.3 1004.5,339.5 1008.5,341.0 1012.5,346.3 1016.5,351.6 1020.5,356.1 1024.5,359.1 1028.5,363.5 1032.5,364.7 1036.5,367.4 1040.5,369.4 1044.5,371.4 1048.5,371.9 1052.5,371.7 1056.5,372.1 1060.5,373.5 1064.5,374.4 1068.5,377.4 1072.5,379.6 1076.5,382.0 1080.5,385.5 1084.5,385.1 1088.5,384.6 1092.5,383.0 1096.5,377.0 1100.5,370.9 1104.5,364.5 1108.5,360.0 1112.5,356.6 1116.5,355.2 1120.5,350.8 1124.5,349.1 1128.5,347.0" fill="none" stroke="#ffff00" stroke-width="1" /><polyline points="4.5,436.8 8.5,435.4 12.5,431.3 16.5,418.7 20.5,414.5 24.5,411.5 28.5,406.3 32.5,401.7 36.5,398.9 40.5,392.8 44.5,391.2 48.5,388.3 52.5,385.8 56.5,379.3 60.5,377.4 64.5,371.5 68.5,361.0 72.5,356.3 76.5,353.2 80.5,345.6 84.5,336.4 88.5,328.4 92.5,322.5 96.5,318.9 100.5,313.5 104.5,307.4 108.5,300.6 112.5,291.6 116.5,276.4 120.5,263.0 124.5,249.7 128.5,237.3 132.5,220.6 136.5,206.5 140.5,196.9 144.5,184.4 148.5,170.4 152.5,154.6 156.5,140.0 160.5,126.4 164.5,116.0 168.5,114.7 172.5,119.1 176.5,126.3 180.5,143.2 184.5,163.8 188.5,184.5 192.5,203.5 196.5,220.0 200.5,237.8 204.5,256.4 208.5,277.8 212.5,298.9 216.5,318.2 220.5,336.5 224.5,347.5 228.5,352.8 232.5,353.4 236.5,351.0 240.5,345.1 244.5,344.1 248.5,345.1 252.5,345.7 256.5,346.1 260.5,353.4 264.5,360.7 268.5,369.9 272.5,379.9 276.5,388.4 280.5,396.6 284.5,401.1 288.5,403.6 292.5,407.6 296.5,411.6 300.5,407.6 304.5,407.1 308.5,407.1 312.5,405.7 316.5,399.9 320.5,393.7 324.5,385.9 328.5,379.9 332.5,376.9 336.5,371.4 340.5,375.6 344.5,385.4 348.5,390.0 352.5,396.3 356.5,405.0 360.5,408.6 364.5,406.4 368.5,407.1 372.5,403.6 376.5,397.3 380.5,385.6 384.5,372.8 388.5,359.6 392.5,348.9 396.5,334.6 400.5,322.2 404.5,315.9 408.5,307.0 412.5,295.7 416.5,285.9 420.5,283.9 424.5,281.8 428.5,283.1 432.5,282.3 436.5,283.9 440.5,285.5 444.5,286.4 448.5,288.8 452.5,287.9 456.5,283.9 460.5,281.1 464.5,279.7 468.5,281.7 472.5,280.7 476.5,279.8 480.5,277.5 484.5,271.9 488.5,271.9 492.5,277.4 496.5,281.9 500.5,286.1 504.5,286.2 508.5,290.6 512.5,295.9 516.5,295.1 520.5,295.1 524.5,293.1 528.5,292.7 532.5,291.3 536.5,292.3 540.5,290.1 544.5,283.4 548.5,274.5 552.5,267.4 556.5,259.5 560.5,255.3 564.5,252.3 568.5,246.5 572.5,240.9 576.5,236.2 580.5,229.4 584.5,225.0 588.5,219.9 592.5,213.0 596.5,211.1 600.5,215.1 604.5,217.1 608.5,216.1 612.5,216.6 616.5,217.4 620.5,213.3 624.5,213.1 628.5,214.5 632.5,214.9 636.5,218.8 640.5,219.5 644.5,219.4 648.5,220.9 652.5,222.4 656.5,221.4 660.5,218.8 664.5,216.9 668.5,212.5 672.5,208.1 676.5,204.9 680.5,204.9 684.5,207.9 688.5,208.2 692.5,210.8 696.5,220.0 700.5,231.2 704.5,241.3 708.5,249.9 712.5,255.6 716.5,264.5 720.5,269.8 724.5,276.4 728.5,282.5 732.5,290.6 736.5,300.0 740.5,311.4 744.5,323.1 748.5,331.6 752.5,336.2 756.5,341.1 760.5,348.9 764.5,359.1 768.5,373.0 772.5,385.9 776.5,401.4 780.5,418.6 784.5,438.1 788.5,455.9 792.5,466.1 796.5,471.9 800.5,477.8 804.5,481.8 808.5,488.0 812.5,494.1 816.5,499.1 820.5,502.3 824.5,504.1 828.5,504.4 832.5,508.4 836.5,512.0 840.5,511.6 844.5,511.1 848.5,508.6 852.5,505.1 856.5,503.0 860.5,501.1 864.5,495.6 868.5,490.0 872.5,482.7 876.5,476.5 880.5,468.5 884.5,461.6 888.5,453.4 892.5,444.1 896.5,435.9 900.5,423.7 904.5,413.6 908.5,408.8 912.5,405.3 916.5,402.2 920.5,398.7 924.5,396.4 928.5,388.4 932.5,379.1 936.5,375.1 940.5,372.2 944.5,365.6 948.5,359.3 952.5,355.2 956.5,354.4 960.5,355.3 964.5,350.6 968.5,348.0 972.5,344.2 976.5,340.4 980.5,336.4 984.5,335.9 988.5,335.8 992.5,332.1 996.5,328.1 1000.5,333.8 1004.5,338.6 1008.5,344.9 1012.5,351.9 1016.5,358.9 1020.5,368.1 1024.5,371.9 1028.5,376.1 1032.5,377.4 1036.5,381.3 1040.5,385.6 1044.5,389.9 1048.5,391.8 1052.5,396.2 1056.5,393.4 1060.5,391.4 1064.5,386.6 1068.5,382.6 1072.5,377.7 1076.5,370.9 1080.5,367.7 1084.5,366.3 1088.5,368.4 1092.5,368.2 1096.5,363.4 1100.5,358.2 1104.5,356.9 1108.5,354.4 1112.5,352.9 1116.5,349.9 1120.5,345.9 1124.5,343.2 1128.5,341.0" fill="none" stroke="#ff0000" stroke-width="1" /><polyline points="4.5,405.2 8.5,411.4 12.5,412.8 16.5,406.4 20.5,405.9 24.5,411.9 28.5,405.4 32.5,398.2 36.5,386.5 40.5,372.8 44.5,376.1 48.5,370.8 52.5,359.8 56.5,353.2 60.5,356.6 64.5,356.5 68.5,349.2 72.5,336.5 76.5,335.6 80.5,331.4 84.5,319.6 88.5,300.1 92.5,288.5 96.5,288.5 100.5,290.5 104.5,279.1 108.5,269.9 112.5,263.6 116.5,252.8 120.5,237.5 124.5,210.9 128.5,184.2 132.5,162.0 136.5,143.0 140.5,130.2 144.5,116.1 148.5,103.2 152.5,98.3 156.5,95.8 160.5,90.8 164.5,88.9 168.5,99.2 172.5,122.1 176.5,149.4 180.5,188.2 184.5,231.9 188.5,278.1 192.5,318.2 196.5,340.8 200.5,353.5 204.5,363.4 208.5,367.5 212.5,365.9 216.5,358.2 220.5,354.8 224.5,354.2 228.5,352.1 232.5,343.5 236.5,334.5 240.5,324.2 244.5,330.1 248.5,335.4 252.5,337.2 256.5,340.1 260.5,363.4 264.5,386.9 268.5,415.6 272.5,429.8 276.5,441.4 280.5,456.1 284.5,462.2 288.5,443.9 292.5,428.4 296.5,407.6 300.5,385.4 304.5,372.8 308.5,358.2 312.5,349.2 316.5,355.9 320.5,359.1 324.5,364.2 328.5,374.4 332.5,380.9 336.5,384.6 340.5,402.1 344.5,414.9 348.5,420.9 352.5,428.4 356.5,435.6 360.5,436.4 364.5,428.2 368.5,412.1 372.5,392.4 376.5,373.6 380.5,342.9 384.5,309.9 388.5,282.9 392.5,269.5 396.5,257.2 400.5,252.1 404.5,258.1 408.5,271.1 412.5,281.5 416.5,288.8 420.5,298.2 424.5,306.4 428.5,314.1 432.5,306.5 436.5,296.6 440.5,289.5 444.5,284.1 448.5,279.4 452.5,269.5 456.5,253.8 460.5,255.6 464.5,262.8 468.5,273.9 472.5,277.4 476.5,280.2 480.5,285.5 484.5,290.1 488.5,288.1 492.5,291.9 496.5,289.9 500.5,294.8 504.5,292.2 508.5,295.6 512.5,301.8 516.5,302.1 520.5,298.2 524.5,296.4 528.5,290.6 532.5,290.4 536.5,288.9 540.5,278.5 544.5,264.8 548.5,250.8 552.5,238.4 556.5,228.4 560.5,220.2 564.5,215.6 568.5,214.5 572.5,217.1 576.5,221.6 580.5,220.5 584.5,221.6 588.5,219.6 592.5,210.4 596.5,207.6 600.5,213.2 604.5,212.5 608.5,211.8 612.5,211.6 616.5,215.1 620.5,216.2 624.5,218.6 628.5,215.8 632.5,217.4 636.5,225.8 640.5,227.4 644.5,223.8 648.5,225.5 652.5,226.1 656.5,227.1 660.5,220.2 664.5,207.9 668.5,197.6 672.5,192.4 676.5,184.4 680.5,183.8 684.5,188.8 688.5,196.2 692.5,213.6 696.5,242.4 700.5,270.1 704.5,298.2 708.5,316.1 712.5,322.4 716.5,332.8 720.5,325.9 724.5,310.5 728.5,294.9 732.5,282.9 736.5,283.9 740.5,300.5 744.5,313.4 748.5,337.2 752.5,361.9 756.5,387.4 760.5,414.9 764.5,434.4 768.5,445.5 772.5,458.5 776.5,465.6 780.5,475.2 784.5,488.8 788.5,496.9 792.5,497.9 796.5,498.4 800.5,497.1 804.5,497.9 808.5,500.8 812.5,499.5 816.5,501.2 820.5,506.6 824.5,509.8 828.5,511.6 832.5,518.9 836.5,523.2 840.5,523.8 844.5,520.9 848.5,510.5 852.5,500.5 856.5,494.4 860.5,483.4 864.5,468.1 868.5,456.2 872.5,444.5 876.5,442.5 880.5,436.5 884.5,428.8 888.5,423.4 892.5,420.2 896.5,415.5 900.5,402.9 904.5,384.8 908.5,381.1 912.5,381.8 916.5,381.1 920.5,377.2 924.5,377.2 928.5,373.8 932.5,373.4 936.5,369.2 940.5,362.6 944.5,350.2 948.5,341.4 952.5,333.2 956.5,334.9 960.5,337.2 964.5,331.9 968.5,333.4 972.5,338.2 976.5,339.4 980.5,339.6 984.5,336.8 988.5,334.4 992.5,332.2 996.5,322.8 1000.5,329.4 1004.5,337.8 1008.5,350.1 1012.5,367.1 1016.5,383.4 1020.5,404.1 1024.5,421.1 1028.5,422.8 1032.5,417.1 1036.5,412.5 1040.5,404.2 1044.5,396.4 1048.5,379.5 1052.5,371.4 1056.5,364.1 1060.5,365.8 1064.5,360.6 1068.5,360.9 1072.5,359.1 1076.5,362.4 1080.5,364.1 1084.5,368.5 1088.5,371.1 1092.5,375.8 1096.5,365.9 1100.5,357.4 1104.5,351.5 1108.5,344.6 1112.5,337.4 1116.5,328.8 1120.5,315.9 1124.5,320.5 1128.5,324.6" fill="none" stroke="#0000c8" stroke-width="1" /><rect x="4" y="599" width="1" height="23" fill="#c0c0c0"/><rect x="8" y="602" width="1" height="20" fill="#c0c0c0"/><rect x="12" y="603" width="1" height="19" fill="#c0c0c0"/><rect x="16" y="599" width="1" height="23" fill="#c0c0c0"/><rect x="20" y="600" width="1" height="22" fill="#c0c0c0"/><rect x="24" y="601" width="1" height="21" fill="#c0c0c0"/><rect x="28" y="601" width="1" height="21" fill="#c0c0c0"/><rect x="32" y="602" width="1" height="20" fill="#c0c0c0"/><rect x="36" y="601" width="1" height="21" fill="#c0c0c0"/><rect x="40" y="600" width="1" height="22" fill="#c0c0c0"/><rect x="44" y="599" width="1" height="23" fill="#c0c0c0"/><rect x="48" y="599" width="1" height="23" fill="#c0c0c0"/><rect x="52" y="599" width="1" height="23" fill="#c0c0c0"/><rect x="56" y="599" width="1" height="23" fill="#c0c0c0"/><rect x="60" y="603" width="1" height="19" fill="#c0c0c0"/><rect x="64" y="604" width="1" height="18" fill="#c0c0c0"/><rect x="68" y="600" width="1" height="22" fill="#c0c0c0"/><rect x="72" y="597" width="1" height="25" fill="#c0c0c0"/><rect x="76" y="599" width="1" height="23" fill="#c0c0c0"/><rect x="80" y="599" width="1" height="23" fill="#c0c0c0"/><rect x="84" y="596" width="1" height="26" fill="#c0c0c0"/><rect x="88" y="595" width="1" height="27" fill="#c0c0c0"/><rect x="92" y="596" width="1" height="26" fill="#c0c0c0"/><rect x="96" y="596" width="1" height="26" fill="#c0c0c0"/><rect x="100" y="596" width="1" height="26" fill="#c0c0c0"/><rect x="104" y="596" width="1" height="26" fill="#c0c0c0"/><rect x="108" y="595" width="1" height="27" fill="#c0c0c0"/><rect x="112" y="593" width="1" height="29" fill="#c0c0c0"/><rect x="116" y="591" width="1" height="31" fill="#c0c0c0"/><rect x="120" y="589" width="1" height="33" fill="#c0c0c0"/><rect x="124" y="584" width="1" height="38" fill="#c0c0c0"/><rect x="128" y="579" width="1" height="43" fill="#c0c0c0"/><rect x="132" y="578" width="1" height="44" fill="#c0c0c0"/><rect x="136" y="577" width="1" height="45" fill="#c0c0c0"/><rect x="140" y="577" width="1" height="45" fill="#c0c0c0"/><rect x="144" y="577" width="1" height="45" fill="#c0c0c0"/><rect x="148" y="576" width="1" height="46" fill="#c0c0c0"/><rect x="152" y="575" width="1" height="47" fill="#c0c0c0"/><rect x="156" y="575" width="1" height="47" fill="#c0c0c0"/><rect x="160" y="576" width="1" height="46" fill="#c0c0c0"/><rect x="164" y="579" width="1" height="43" fill="#c0c0c0"/><rect x="168" y="586" width="1" height="36" fill="#c0c0c0"/><rect x="172" y="595" width="1" height="27" fill="#c0c0c0"/><rect x="176" y="604" width="1" height="18" fill="#c0c0c0"/><rect x="180" y="613" width="1" height="9" fill="#c0c0c0"/><rect x="184" y="621" width="1" height="3" fill="#c0c0c0"/><rect x="188" y="621" width="1" height="12" fill="#c0c0c0"/><rect x="192" y="621" width="1" height="18" fill="#c0c0c0"/><rect x="196" y="621" width="1" height="21" fill="#c0c0c0"/><rect x="200" y="621" width="1" height="23" fill="#c0c0c0"/><rect x="204" y="621" width="1" height="24" fill="#c0c0c0"/><rect x="208" y="621" width="1" height="25" fill="#c0c0c0"/><rect x="212" y="621" width="1" height="26" fill="#c0c0c0"/><rect x="216" y="621" width="1" height="26" fill="#c0c0c0"/><rect x="220" y="621" width="1" height="26" fill="#c0c0c0"/><rect x="224" y="621" width="1" height="25" fill="#c0c0c0"/><rect x="228" y="621" width="1" height="23" fill="#c0c0c0"/><rect x="232" y="621" width="1" height="19" fill="#c0c0c0"/><rect x="236" y="621" width="1" height="17" fill="#c0c0c0"/><rect x="240" y="621" width="1" height="14" fill="#c0c0c0"/><rect x="244" y="621" width="1" height="17" fill="#c0c0c0"/><rect x="248" y="621" width="1" height="19" fill="#c0c0c0"/><rect x="252" y="621" width="1" height="19" fill="#c0c0c0"/><rect x="256" y="621" width="1" height="18" fill="#c0c0c0"/><rect x="260" y="621" width="1" height="22" fill="#c0c0c0"/><rect x="264" y="621" width="1" height="26" fill="#c0c0c0"/><rect x="268" y="621" width="1" height="30" fill="#c0c0c0"/><rect x="272" y="621" width="1" height="33" fill="#c0c0c0"/><rect x="276" y="621" width="1" height="34" fill="#c0c0c0"/><rect x="280" y="621" width="1" height="34" fill="#c0c0c0"/><rect x="284" y="621" width="1" height="30" fill="#c0c0c0"/><rect x="288" y="621" width="1" height="23" fill="#c0c0c0"/><rect x="292" y="621" width="1" height="19" fill="#c0c0c0"/><rect x="296" y="621" width="1" height="15" fill="#c0c0c0"/><rect x="300" y="621" width="1" height="11" fill="#c0c0c0"/><rect x="304" y="621" width="1" height="10" fill="#c0c0c0"/><rect x="308" y="621" width="1" height="8" fill="#c0c0c0"/><rect x="312" y="621" width="1" height="6" fill="#c0c0c0"/><rect x="316" y="621" width="1" height="5" fill="#c0c0c0"/><rect x="320" y="621" width="1" height="5" fill="#c0c0c0"/><rect x="324" y="621" width="1" height="5" fill="#c0c0c0"/><rect x="328" y="621" width="1" height="6" fill="#c0c0c0"/><rect x="332" y="621" width="1" height="9" fill="#c0c0c0"/><rect x="336" y="621" width="1" height="8" fill="#c0c0c0"/><rect x="340" y="621" width="1" height="11" fill="#c0c0c0"/><rect x="344" y="621" width="1" height="14" fill="#c0c0c0"/><rect x="348" y="621" width="1" height="13" fill="#c0c0c0"/><rect x="352" y="621" width="1" height="14" fill="#c0c0c0"/><rect x="356" y="621" width="1" height="15" fill="#c0c0c0"/><rect x="360" y="621" width="1" height="15" fill="#c0c0c0"/><rect x="364" y="621" width="1" height="9" fill="#c0c0c0"/><rect x="368" y="621" width="1" height="5" fill="#c0c0c0"/><rect x="372" y="621" width="1" height="1" fill="#c0c0c0"/><rect x="376" y="616" width="1" height="6" fill="#c0c0c0"/><rect x="380" y="609" width="1" height="13" fill="#c0c0c0"/><rect x="384" y="603" width="1" height="19" fill="#c0c0c0"/><rect x="388" y="600" width="1" height="22" fill="#c0c0c0"/><rect x="392" y="598" width="1" height="24" fill="#c0c0c0"/><rect x="396" y="597" width="1" height="25" fill="#c0c0c0"/><rect x="400" y="599" width="1" height="23" fill="#c0c0c0"/><rect x="404" y="602" width="1" height="20" fill="#c0c0c0"/><rect x="408" y="604" width="1" height="18" fill="#c0c0c0"/><rect x="412" y="605" width="1" height="17" fill="#c0c0c0"/><rect x="416" y="606" width="1" height="16" fill="#c0c0c0"/><rect x="420" y="607" width="1" height="15" fill="#c0c0c0"/><rect x="424" y="609" width="1" height="13" fill="#c0c0c0"/><rect x="428" y="612" width="1" height="10" fill="#c0c0c0"/><rect x="432" y="611" width="1" height="11" fill="#c0c0c0"/><rect x="436" y="608" width="1" height="14" fill="#c0c0c0"/><rect x="440" y="607" width="1" height="15" fill="#c0c0c0"/><rect x="444" y="606" width="1" height="16" fill="#c0c0c0"/><rect x="448" y="607" width="1" height="15" fill="#c0c0c0"/><rect x="452" y="606" width="1" height="16" fill="#c0c0c0"/><rect x="456" y="605" width="1" height="17" fill="#c0c0c0"/><rect x="460" y="607" width="1" height="15" fill="#c0c0c0"/><rect x="464" y="609" width="1" height="13" fill="#c0c0c0"/><rect x="468" y="613" width="1" height="9" fill="#c0c0c0"/><rect x="472" y="613" width="1" height="9" fill="#c0c0c0"/><rect x="476" y="614" width="1" height="8" fill="#c0c0c0"/><rect x="480" y="615" width="1" height="7" fill="#c0c0c0"/><rect x="484" y="614" width="1" height="8" fill="#c0c0c0"/><rect x="488" y="614" width="1" height="8" fill="#c0c0c0"/><rect x="492" y="617" width="1" height="5" fill="#c0c0c0"/><rect x="496" y="618" width="1" height="4" fill="#c0c0c0"/><rect x="500" y="620" width="1" height="2" fill="#c0c0c0"/><rect x="504" y="619" width="1" height="3" fill="#c0c0c0"/><rect x="508" y="620" width="1" height="2" fill="#c0c0c0"/><rect x="512" y="621" width="1" height="1" fill="#c0c0c0"/><rect x="516" y="620" width="1" height="2" fill="#c0c0c0"/><rect x="520" y="620" width="1" height="2" fill="#c0c0c0"/><rect x="524" y="620" width="1" height="2" fill="#c0c0c0"/><rect x="528" y="620" width="1" height="2" fill="#c0c0c0"/><rect x="532" y="619" width="1" height="3" fill="#c0c0c0"/><rect x="536" y="619" width="1" height="3" fill="#c0c0c0"/><rect x="540" y="616" width="1" height="6" fill="#c0c0c0"/><rect x="544" y="612" width="1" height="10" fill="#c0c0c0"/><rect x="548" y="609" width="1" height="13" fill="#c0c0c0"/><rect x="552" y="608" width="1" height="14" fill="#c0c0c0"/><rect x="556" y="607" width="1" height="15" fill="#c0c0c0"/><rect x="560" y="606" width="1" height="16" fill="#c0c0c0"/><rect x="564" y="609" width="1" height="13" fill="#c0c0c0"/><rect x="568" y="609" width="1" height="13" fill="#c0c0c0"/><rect x="572" y="608" width="1" height="14" fill="#c0c0c0"/><rect x="576" y="608" width="1" height="14" fill="#c0c0c0"/><rect x="580" y="608" width="1" height="14" fill="#c0c0c0"/><rect x="584" y="608" width="1" height="14" fill="#c0c0c0"/><rect x="588" y="608" width="1" height="14" fill="#c0c0c0"/><rect x="592" y="608" width="1" height="14" fill="#c0c0c0"/><rect x="596" y="608" width="1" height="14" fill="#c0c0c0"/><rect x="600" y="610" width="1" height="12" fill="#c0c0c0"/><rect x="604" y="611" width="1" height="11" fill="#c0c0c0"/><rect x="608" y="611" width="1" height="11" fill="#c0c0c0"/><rect x="612" y="611" width="1" height="11" fill="#c0c0c0"/><rect x="616" y="612" width="1" height="10" fill="#c0c0c0"/><rect x="620" y="613" width="1" height="9" fill="#c0c0c0"/><rect x="624" y="614" width="1" height="8" fill="#c0c0c0"/><rect x="628" y="614" width="1" height="8" fill="#c0c0c0"/><rect x="632" y="616" width="1" height="6" fill="#c0c0c0"/><rect x="636" y="618" width="1" height="4" fill="#c0c0c0"/><rect x="640" y="618" width="1" height="4" fill="#c0c0c0"/><rect x="644" y="617" width="1" height="5" fill="#c0c0c0"/><rect x="648" y="617" width="1" height="5" fill="#c0c0c0"/><rect x="652" y="618" width="1" height="4" fill="#c0c0c0"/><rect x="656" y="618" width="1" height="4" fill="#c0c0c0"/><rect x="660" y="617" width="1" height="5" fill="#c0c0c0"/><rect x="664" y="614" width="1" height="8" fill="#c0c0c0"/><rect x="668" y="612" width="1" height="10" fill="#c0c0c0"/><rect x="672" y="611" width="1" height="11" fill="#c0c0c0"/><rect x="676" y="610" width="1" height="12" fill="#c0c0c0"/><rect x="680" y="612" width="1" height="10" fill="#c0c0c0"/><rect x="684" y="616" width="1" height="6" fill="#c0c0c0"/><rect x="688" y="618" width="1" height="4" fill="#c0c0c0"/><rect x="692" y="621" width="1" height="3" fill="#c0c0c0"/><rect x="696" y="621" width="1" height="9" fill="#c0c0c0"/><rect x="700" y="621" width="1" height="14" fill="#c0c0c0"/><rect x="704" y="621" width="1" height="18" fill="#c0c0c0"/><rect x="708" y="621" width="1" height="21" fill="#c0c0c0"/><rect x="712" y="621" width="1" height="20" fill="#c0c0c0"/><rect x="716" y="621" width="1" height="20" fill="#c0c0c0"/><rect x="720" y="621" width="1" height="16" fill="#c0c0c0"/><rect x="724" y="621" width="1" height="13" fill="#c0c0c0"/><rect x="728" y="621" width="1" height="10" fill="#c0c0c0"/><rect x="732" y="621" width="1" height="10" fill="#c0c0c0"/><rect x="736" y="621" width="1" height="13" fill="#c0c0c0"/><rect x="740" y="621" width="1" height="19" fill="#c0c0c0"/><rect x="744" y="621" width="1" height="22" fill="#c0c0c0"/><rect x="748" y="621" width="1" height="25" fill="#c0c0c0"/><rect x="752" y="621" width="1" height="28" fill="#c0c0c0"/><rect x="756" y="621" width="1" height="30" fill="#c0c0c0"/><rect x="760" y="621" width="1" height="33" fill="#c0c0c0"/><rect x="764" y="621" width="1" height="36" fill="#c0c0c0"/><rect x="768" y="621" width="1" height="39" fill="#c0c0c0"/><rect x="772" y="621" width="1" height="40" fill="#c0c0c0"/><rect x="776" y="621" width="1" height="39" fill="#c0c0c0"/><rect x="780" y="621" width="1" height="39" fill="#c0c0c0"/><rect x="784" y="621" width="1" height="41" fill="#c0c0c0"/><rect x="788" y="621" width="1" height="42" fill="#c0c0c0"/><rect x="792" y="621" width="1" height="40" fill="#c0c0c0"/><rect x="796" y="621" width="1" height="39" fill="#c0c0c0"/><rect x="800" y="621" width="1" height="37" fill="#c0c0c0"/><rect x="804" y="621" width="1" height="34" fill="#c0c0c0"/><rect x="808" y="621" width="1" height="33" fill="#c0c0c0"/><rect x="812" y="621" width="1" height="32" fill="#c0c0c0"/><rect x="816" y="621" width="1" height="33" fill="#c0c0c0"/><rect x="820" y="621" width="1" height="33" fill="#c0c0c0"/><rect x="824" y="621" width="1" height="32" fill="#c0c0c0"/><rect x="828" y="621" width="1" height="29" fill="#c0c0c0"/><rect x="832" y="621" width="1" height="28" fill="#c0c0c0"/><rect x="836" y="621" width="1" height="27" fill="#c0c0c0"/><rect x="840" y="621" width="1" height="26" fill="#c0c0c0"/><rect x="844" y="621" width="1" height="24" fill="#c0c0c0"/><rect x="848" y="621" width="1" height="20" fill="#c0c0c0"/><rect x="852" y="621" width="1" height="16" fill="#c0c0c0"/><rect x="856" y="621" width="1" height="13" fill="#c0c0c0"/><rect x="860" y="621" width="1" height="10" fill="#c0c0c0"/><rect x="864" y="621" width="1" height="6" fill="#c0c0c0"/><rect x="868" y="621" width="1" height="4" fill="#c0c0c0"/><rect x="872" y="621" width="1" height="2" fill="#c0c0c0"/><rect x="876" y="621" width="1" height="1" fill="#c0c0c0"/><rect x="880" y="619" width="1" height="3" fill="#c0c0c0"/><rect x="884" y="616" width="1" height="6" fill="#c0c0c0"/><rect x="888" y="614" width="1" height="8" fill="#c0c0c0"/><rect x="892" y="613" width="1" height="9" fill="#c0c0c0"/><rect x="896" y="612" width="1" height="10" fill="#c0c0c0"/><rect x="900" y="609" width="1" height="13" fill="#c0c0c0"/><rect x="904" y="605" width="1" height="17" fill="#c0c0c0"/><rect x="908" y="605" width="1" height="17" fill="#c0c0c0"/><rect x="912" y="607" width="1" height="15" fill="#c0c0c0"/><rect x="916" y="608" width="1" height="14" fill="#c0c0c0"/><rect x="920" y="608" width="1" height="14" fill="#c0c0c0"/><rect x="924" y="609" width="1" height="13" fill="#c0c0c0"/><rect x="928" y="606" width="1" height="16" fill="#c0c0c0"/><rect x="932" y="604" width="1" height="18" fill="#c0c0c0"/><rect x="936" y="604" width="1" height="18" fill="#c0c0c0"/><rect x="940" y="605" width="1" height="17" fill="#c0c0c0"/><rect x="944" y="603" width="1" height="19" fill="#c0c0c0"/><rect x="948" y="602" width="1" height="20" fill="#c0c0c0"/><rect x="952" y="603" width="1" height="19" fill="#c0c0c0"/><rect x="956" y="603" width="1" height="19" fill="#c0c0c0"/><rect x="960" y="604" width="1" height="18" fill="#c0c0c0"/><rect x="964" y="604" width="1" height="18" fill="#c0c0c0"/><rect x="968" y="606" width="1" height="16" fill="#c0c0c0"/><rect x="972" y="607" width="1" height="15" fill="#c0c0c0"/><rect x="976" y="607" width="1" height="15" fill="#c0c0c0"/><rect x="980" y="608" width="1" height="14" fill="#c0c0c0"/><rect x="984" y="608" width="1" height="14" fill="#c0c0c0"/><rect x="988" y="608" width="1" height="14" fill="#c0c0c0"/><rect x="992" y="607" width="1" height="15" fill="#c0c0c0"/><rect x="996" y="607" width="1" height="15" fill="#c0c0c0"/><rect x="1000" y="611" width="1" height="11" fill="#c0c0c0"/><rect x="1004" y="614" width="1" height="8" fill="#c0c0c0"/><rect x="1008" y="619" width="1" height="3" fill="#c0c0c0"/><rect x="1012" y="621" width="1" height="3" fill="#c0c0c0"/><rect x="1016" y="621" width="1" height="6" fill="#c0c0c0"/><rect x="1020" y="621" width="1" height="9" fill="#c0c0c0"/><rect x="1024" y="621" width="1" height="10" fill="#c0c0c0"/><rect x="1028" y="621" width="1" height="10" fill="#c0c0c0"/><rect x="1032" y="621" width="1" height="7" fill="#c0c0c0"/><rect x="1036" y="621" width="1" height="7" fill="#c0c0c0"/><rect x="1040" y="621" width="1" height="6" fill="#c0c0c0"/><rect x="1044" y="621" width="1" height="5" fill="#c0c0c0"/><rect x="1048" y="621" width="1" height="2" fill="#c0c0c0"/><rect x="1052" y="621" width="1" height="1" fill="#c0c0c0"/><rect x="1056" y="620" width="1" height="2" fill="#c0c0c0"/><rect x="1060" y="619" width="1" height="3" fill="#c0c0c0"/><rect x="1064" y="619" width="1" height="3" fill="#c0c0c0"/><rect x="1068" y="620" width="1" height="2" fill="#c0c0c0"/><rect x="1072" y="619" width="1" height="3" fill="#c0c0c0"/><rect x="1076" y="619" width="1" height="3" fill="#c0c0c0"/><rect x="1080" y="619" width="1" height="3" fill="#c0c0c0"/><rect x="1084" y="620" width="1" height="2" fill="#c0c0c0"/><rect x="1088" y="621" width="1" height="1" fill="#c0c0c0"/><rect x="1092" y="621" width="1" height="2" fill="#c0c0c0"/><rect x="1096" y="618" width="1" height="4" fill="#c0c0c0"/><rect x="1100" y="616" width="1" height="6" fill="#c0c0c0"/><rect x="1104" y="614" width="1" height="8" fill="#c0c0c0"/><rect x="1108" y="613" width="1" height="9" fill="#c0c0c0"/><rect x="1112" y="613" width="1" height="9" fill="#c0c0c0"/><rect x="1116" y="612" width="1" height="10" fill="#c0c0c0"/><rect x="1120" y="611" width="1" height="11" fill="#c0c0c0"/><rect x="1124" y="612" width="1" height="10" fill="#c0c0c0"/><rect x="1128" y="613" width="1" height="9" fill="#c0c0c0"/><polyline points="4.5,598.9 8.5,598.9 12.5,599.1 16.5,599.0 20.5,599.0 24.5,599.6 28.5,600.2 32.5,601.0 36.5,601.5 40.5,601.5 44.5,601.2 48.5,600.8 52.5,600.8 56.5,600.7 60.5,600.8 64.5,601.1 68.5,600.9 72.5,600.4 76.5,600.3 80.5,600.3 84.5,600.0 88.5,599.6 92.5,599.2 96.5,598.5 100.5,597.7 104.5,597.2 108.5,597.0 112.5,596.4 116.5,595.6 120.5,594.8 124.5,593.5 128.5,591.6 132.5,589.6 136.5,587.4 140.5,585.3 144.5,583.3 148.5,581.4 152.5,579.6 156.5,578.1 160.5,577.2 164.5,577.2 168.5,578.1 172.5,580.1 176.5,583.1 180.5,587.2 184.5,592.4 188.5,598.7 192.5,605.6 196.5,612.8 200.5,619.9 204.5,626.4 208.5,632.0 212.5,636.7 216.5,640.3 220.5,642.8 224.5,644.3 228.5,644.9 232.5,644.7 236.5,644.1 240.5,643.0 244.5,642.0 248.5,641.2 252.5,640.4 256.5,639.5 260.5,639.3 264.5,639.6 268.5,640.8 272.5,642.5 276.5,644.7 280.5,646.5 284.5,647.7 288.5,648.2 292.5,648.2 296.5,647.4 300.5,645.6 304.5,643.4 308.5,640.7 312.5,637.6 316.5,634.4 320.5,631.7 324.5,629.8 328.5,628.5 332.5,627.8 336.5,627.6 340.5,627.7 344.5,628.3 348.5,629.1 352.5,630.1 356.5,631.2 360.5,632.2 364.5,632.5 368.5,632.1 372.5,631.3 376.5,629.6 380.5,626.8 384.5,623.5 388.5,619.8 392.5,615.7 396.5,611.5 400.5,608.2 404.5,605.6 408.5,603.7 412.5,602.5 416.5,602.1 420.5,602.5 424.5,603.5 428.5,605.0 432.5,606.5 436.5,607.6 440.5,608.1 444.5,608.4 448.5,608.6 452.5,608.6 456.5,608.4 460.5,608.2 464.5,608.0 468.5,608.2 472.5,608.7 476.5,609.6 480.5,610.5 484.5,611.3 488.5,612.2 492.5,613.5 496.5,614.8 500.5,615.9 504.5,616.6 508.5,617.4 512.5,618.1 516.5,618.7 520.5,619.3 524.5,620.0 528.5,620.2 532.5,620.3 536.5,620.2 540.5,619.9 544.5,619.0 548.5,617.7 552.5,616.3 556.5,614.8 560.5,613.3 564.5,612.1 568.5,611.0 572.5,609.7 576.5,608.8 580.5,608.4 584.5,608.3 588.5,608.3 592.5,608.4 596.5,608.6 600.5,608.8 604.5,609.1 608.5,609.4 612.5,609.7 616.5,610.2 620.5,610.7 624.5,611.3 628.5,612.0 632.5,612.9 636.5,613.7 640.5,614.5 644.5,615.2 648.5,615.8 652.5,616.4 656.5,617.0 660.5,617.4 664.5,617.4 668.5,617.0 672.5,616.2 676.5,615.3 680.5,614.8 684.5,614.7 688.5,614.8 692.5,615.3 696.5,616.7 700.5,618.9 704.5,621.9 708.5,625.2 712.5,628.6 716.5,631.6 720.5,633.8 724.5,635.4 728.5,636.3 732.5,636.3 736.5,636.2 740.5,636.3 744.5,636.5 748.5,637.0 752.5,637.9 756.5,639.5 760.5,641.7 764.5,644.6 768.5,647.9 772.5,650.9 776.5,653.1 780.5,655.0 784.5,656.8 788.5,658.3 792.5,659.5 796.5,660.2 800.5,660.3 804.5,659.7 808.5,658.9 812.5,658.1 816.5,657.4 820.5,656.5 824.5,655.4 828.5,654.1 832.5,652.8 836.5,651.7 840.5,650.9 844.5,649.9 848.5,648.5 852.5,646.7 856.5,644.5 860.5,642.0 864.5,639.5 868.5,636.8 872.5,634.0 876.5,631.3 880.5,628.4 884.5,625.7 888.5,623.3 892.5,621.1 896.5,619.2 900.5,617.2 904.5,615.1 908.5,613.3 912.5,611.7 916.5,610.4 920.5,609.5 924.5,608.9 928.5,608.1 932.5,607.1 936.5,606.6 940.5,606.6 944.5,606.3 948.5,605.8 952.5,605.2 956.5,604.7 960.5,604.2 964.5,603.9 968.5,604.2 972.5,604.5 976.5,604.8 980.5,605.4 984.5,606.0 988.5,606.6 992.5,607.0 996.5,607.3 1000.5,608.1 1004.5,609.0 1008.5,610.3 1012.5,612.1 1016.5,614.1 1020.5,616.5 1024.5,619.0 1028.5,621.5 1032.5,623.7 1036.5,625.5 1040.5,626.8 1044.5,627.5 1048.5,627.3 1052.5,626.8 1056.5,625.7 1060.5,624.5 1064.5,623.3 1068.5,622.5 1072.5,621.7 1076.5,620.9 1080.5,620.3 1084.5,620.1 1088.5,620.1 1092.5,620.3 1096.5,620.2 1100.5,619.8 1104.5,619.2 1108.5,618.5 1112.5,617.9 1116.5,617.1 1120.5,616.1 1124.5,615.2 1128.5,614.2" fill="none" stroke="#ff0000" stroke-width="1" stroke-dasharray="3,3"/><polyline points="4.5,730.9 8.5,734.1 12.5,729.9 16.5,714.1 20.5,727.5 24.5,732.5 28.5,728.0 32.5,728.4 36.5,725.5 40.5,720.8 44.5,724.4 48.5,724.8 52.5,722.8 56.5,722.8 60.5,738.7 64.5,731.0 68.5,719.9 72.5,717.4 76.5,732.4 80.5,727.9 84.5,722.2 88.5,725.0 92.5,727.0 96.5,726.6 100.5,725.6 104.5,724.4 108.5,721.5 112.5,717.5 116.5,715.8 120.5,713.6 124.5,705.7 128.5,705.0 132.5,710.7 136.5,710.9 140.5,713.8 144.5,711.1 148.5,709.9 152.5,707.0 156.5,709.3 160.5,711.2 164.5,717.7 168.5,739.0 172.5,748.7 176.5,751.3 180.5,757.6 184.5,761.7 188.5,763.9 192.5,759.5 196.5,754.2 200.5,753.3 204.5,753.3 208.5,755.2 212.5,755.5 216.5,750.8 220.5,752.2 224.5,750.6 228.5,746.6 232.5,736.2 236.5,738.5 240.5,737.0 244.5,753.7 248.5,754.4 252.5,747.4 256.5,745.6 260.5,759.2 264.5,760.6 268.5,763.6 272.5,761.7 276.5,758.5 280.5,756.5 284.5,741.7 288.5,730.1 292.5,735.4 296.5,734.3 300.5,731.4 304.5,740.5 308.5,737.0 312.5,732.5 316.5,738.6 320.5,739.7 324.5,740.8 328.5,743.5 332.5,748.2 336.5,740.1 340.5,749.8 344.5,750.4 348.5,742.7 352.5,745.2 356.5,747.4 360.5,744.3 364.5,728.0 368.5,729.9 372.5,727.2 376.5,722.9 380.5,715.7 384.5,715.6 388.5,720.9 392.5,719.8 396.5,723.7 400.5,729.7 404.5,737.4 408.5,734.5 412.5,731.5 416.5,732.3 420.5,733.5 424.5,735.5 428.5,740.8 432.5,729.5 436.5,724.5 440.5,724.5 444.5,728.1 448.5,730.5 452.5,726.1 456.5,723.8 460.5,736.7 464.5,737.3 468.5,742.6 472.5,735.2 476.5,736.6 480.5,734.8 484.5,731.1 488.5,734.3 492.5,743.2 496.5,740.4 500.5,742.4 504.5,733.0 508.5,739.7 512.5,739.7 516.5,734.1 520.5,737.3 524.5,737.5 528.5,733.8 532.5,732.2 536.5,738.4 540.5,725.7 544.5,718.2 548.5,721.5 552.5,724.4 556.5,724.4 560.5,726.0 564.5,738.0 568.5,730.4 572.5,726.3 576.5,732.3 580.5,727.5 584.5,731.1 588.5,728.2 592.5,728.0 596.5,729.8 600.5,737.9 604.5,734.2 608.5,728.6 612.5,733.5 616.5,735.6 620.5,731.9 624.5,735.8 628.5,735.1 632.5,738.7 636.5,743.5 640.5,736.3 644.5,730.2 648.5,735.3 652.5,737.3 656.5,737.3 660.5,727.6 664.5,724.0 668.5,721.3 672.5,723.9 676.5,724.2 680.5,740.8 684.5,748.8 688.5,742.7 692.5,752.0 696.5,760.6 700.5,760.7 704.5,761.2 708.5,757.9 712.5,747.3 716.5,748.1 720.5,733.9 724.5,734.9 728.5,734.9 732.5,740.9 736.5,753.5 740.5,761.2 744.5,756.7 748.5,757.6 752.5,758.9 756.5,759.5 760.5,764.5 764.5,766.8 768.5,767.7 772.5,765.4 776.5,756.5 780.5,760.1 784.5,764.0 788.5,764.7 792.5,757.1 796.5,757.8 800.5,752.5 804.5,747.9 808.5,754.7 812.5,755.3 816.5,759.3 820.5,758.7 824.5,755.4 828.5,747.3 832.5,751.0 836.5,754.6 840.5,748.6 844.5,749.1 848.5,735.8 852.5,734.1 856.5,733.7 860.5,730.6 864.5,728.6 868.5,729.2 872.5,730.5 876.5,734.5 880.5,725.6 884.5,722.6 888.5,723.3 892.5,725.8 896.5,723.6 900.5,713.3 904.5,709.3 908.5,729.1 912.5,733.2 916.5,731.5 920.5,728.4 924.5,733.1 928.5,719.7 932.5,719.0 936.5,728.7 940.5,728.7 944.5,720.6 948.5,723.1 952.5,728.8 956.5,727.7 960.5,727.5 964.5,724.7 968.5,736.6 972.5,731.5 976.5,728.4 980.5,732.6 984.5,727.1 988.5,727.7 992.5,725.3 996.5,724.5 1000.5,744.9 1004.5,744.2 1008.5,751.8 1012.5,752.6 1016.5,751.8 1020.5,755.1 1024.5,746.9 1028.5,742.0 1032.5,730.6 1036.5,740.9 1040.5,736.9 1044.5,736.9 1048.5,728.9 1052.5,735.2 1056.5,732.7 1060.5,734.4 1064.5,735.3 1068.5,739.0 1072.5,735.7 1076.5,733.9 1080.5,738.7 1084.5,739.9 1088.5,738.6 1092.5,743.2 1096.5,724.8 1100.5,723.8 1104.5,726.7 1108.5,730.1 1112.5,730.7 1116.5,727.6 1120.5,725.3 1124.5,735.6 1128.5,733.5" fill="none" stroke="#1e90ff" stroke-width="1" /><rect x="4" y="130" width="1415" height="3" fill="#ff0000"/><rect x="4" y="215" width="1415" height="3" fill="#ff0000"/><rect x="4" y="296" width="1415" height="3" fill="#00ff00"/><rect x="4" y="422" width="1415" height="3" fill="#00ff00"/><rect x="4" y="561" width="1415" height="3" fill="#0000ff"/><rect x="3" y="128" width="7" height="7" fill="#ff0000"/><rect x="6" y="131" width="1" height="1" fill="#fff"/><rect x="1413" y="128" width="7" height="7" fill="#ff0000"/><rect x="1416" y="131" width="1" height="1" fill="#fff"/><rect x="3" y="213" width="7" height="7" fill="#ff0000"/><rect x="6" y="216" width="1" height="1" fill="#fff"/><rect x="1413" y="213" width="7" height="7" fill="#ff0000"/><rect x="1416" y="216" width="1" height="1" fill="#fff"/><rect x="3" y="294" width="7" height="7" fill="#00ff00"/><rect x="6" y="297" width="1" height="1" fill="#fff"/><rect x="1413" y="294" width="7" height="7" fill="#00ff00"/><rect x="1416" y="297" width="1" height="1" fill="#fff"/></svg>
<div class="t n" style="left:6.6px;top:6.2px;font-size:10.4px;color:#404040;font-weight:normal;letter-spacing:0px;">H4</div><div class="t n" style="left:35.5px;top:6.2px;font-size:10.4px;color:#404040;font-weight:normal;letter-spacing:0px;">D1</div><div class="t n" style="left:62.6px;top:6.2px;font-size:10.4px;color:#404040;font-weight:normal;letter-spacing:0px;">W1</div><div class="t n" style="left:89.6px;top:6.2px;font-size:10.4px;color:#404040;font-weight:normal;letter-spacing:0px;">MN</div><div class="t " style="left:1425px;top:29px;font-size:10px;color:#000;font-weight:normal;letter-spacing:-0.62px;">1.36880</div><div class="t " style="left:1425px;top:62px;font-size:10px;color:#000;font-weight:normal;letter-spacing:-0.62px;">1.36450</div><div class="t " style="left:1425px;top:95px;font-size:10px;color:#000;font-weight:normal;letter-spacing:-0.62px;">1.36020</div><div class="t " style="left:1425px;top:161px;font-size:10px;color:#000;font-weight:normal;letter-spacing:-0.62px;">1.35170</div><div class="t " style="left:1425px;top:194px;font-size:10px;color:#000;font-weight:normal;letter-spacing:-0.62px;">1.34740</div><div class="t " style="left:1425px;top:227px;font-size:10px;color:#000;font-weight:normal;letter-spacing:-0.62px;">1.34310</div><div class="t " style="left:1425px;top:260px;font-size:10px;color:#000;font-weight:normal;letter-spacing:-0.62px;">1.33880</div><div class="t " style="left:1425px;top:326px;font-size:10px;color:#000;font-weight:normal;letter-spacing:-0.62px;">1.33020</div><div class="t " style="left:1425px;top:359px;font-size:10px;color:#000;font-weight:normal;letter-spacing:-0.62px;">1.32590</div><div class="t " style="left:1425px;top:392px;font-size:10px;color:#000;font-weight:normal;letter-spacing:-0.62px;">1.32160</div><div class="t " style="left:1425px;top:425px;font-size:10px;color:#000;font-weight:normal;letter-spacing:-0.62px;">1.31730</div><div class="t " style="left:1425px;top:458px;font-size:10px;color:#000;font-weight:normal;letter-spacing:-0.62px;">1.31300</div><div class="t " style="left:1425px;top:491px;font-size:10px;color:#000;font-weight:normal;letter-spacing:-0.62px;">1.30870</div><div class="t " style="left:1425px;top:524px;font-size:10px;color:#000;font-weight:normal;letter-spacing:-0.62px;">1.30440</div><div style="position:absolute;left:1421px;top:125px;width:38px;height:11px;background:#ff0000"></div><div class="t " style="left:1425px;top:127px;font-size:10px;color:#fff;font-weight:normal;letter-spacing:-0.62px;">1.35606</div><div style="position:absolute;left:1421px;top:210px;width:38px;height:11px;background:#ff0000"></div><div class="t " style="left:1425px;top:212px;font-size:10px;color:#fff;font-weight:normal;letter-spacing:-0.62px;">1.34501</div><div style="position:absolute;left:1421px;top:291px;width:38px;height:11px;background:#00ff00"></div><div class="t " style="left:1425px;top:293px;font-size:10px;color:#fff;font-weight:normal;letter-spacing:-0.62px;">1.33449</div><div style="position:absolute;left:1421px;top:417px;width:38px;height:11px;background:#00ff00"></div><div class="t " style="left:1425px;top:419px;font-size:10px;color:#fff;font-weight:normal;letter-spacing:-0.62px;">1.31812</div><div style="position:absolute;left:1421px;top:328px;width:38px;height:11px;background:#000"></div><div class="t " style="left:1425px;top:329px;font-size:10px;color:#fff;font-weight:normal;letter-spacing:-0.62px;">1.32978</div><div style="position:absolute;left:1421px;top:556px;width:38px;height:11px;background:#0000ff"></div><div class="t " style="left:1425px;top:558px;font-size:10px;color:#fff;font-weight:normal;letter-spacing:-0.62px;">1.30004</div><div class="t " style="left:1422.8px;top:570px;font-size:10px;color:#000;font-weight:normal;letter-spacing:-0.62px;">0.010311</div><div class="t " style="left:1422.8px;top:618px;font-size:10px;color:#000;font-weight:normal;letter-spacing:-0.62px;">0.00</div><div class="t " style="left:1422.3px;top:659px;font-size:10px;color:#000;font-weight:normal;letter-spacing:-0.62px;">-0.00920</div><div class="t " style="left:1422.3px;top:675px;font-size:10px;color:#000;font-weight:normal;letter-spacing:-0.62px;">100</div><div class="t " style="left:1421.2px;top:708px;font-size:10px;color:#000;font-weight:normal;letter-spacing:-0.62px;">70</div><div class="t " style="left:1421.4px;top:759px;font-size:10px;color:#000;font-weight:normal;letter-spacing:-0.62px;">30</div><div class="t " style="left:1422.2px;top:791px;font-size:10px;color:#000;font-weight:normal;letter-spacing:-0.62px;">0</div><div class="t " style="left:3.2px;top:806px;font-size:9.6px;color:#000;font-weight:normal;letter-spacing:0px;">16 Nov 2018</div><div class="t " style="left:67.2px;top:806px;font-size:9.6px;color:#000;font-weight:normal;letter-spacing:0px;">5 Dec 2018</div><div class="t " style="left:131.2px;top:806px;font-size:9.6px;color:#000;font-weight:normal;letter-spacing:0px;">24 Dec 2018</div><div class="t " style="left:195.2px;top:806px;font-size:9.6px;color:#000;font-weight:normal;letter-spacing:0px;">11 Jan 2019</div><div class="t " style="left:259.2px;top:806px;font-size:9.6px;color:#000;font-weight:normal;letter-spacing:0px;">30 Jan 2019</div><div class="t " style="left:323.2px;top:806px;font-size:9.6px;color:#000;font-weight:normal;letter-spacing:0px;">18 Feb 2019</div><div class="t " style="left:387.2px;top:806px;font-size:9.6px;color:#000;font-weight:normal;letter-spacing:0px;">8 Mar 2019</div><div class="t " style="left:451.2px;top:806px;font-size:9.6px;color:#000;font-weight:normal;letter-spacing:0px;">27 Mar 2019</div><div class="t " style="left:515.2px;top:806px;font-size:9.6px;color:#000;font-weight:normal;letter-spacing:0px;">15 Apr 2019</div><div class="t " style="left:579.2px;top:806px;font-size:9.6px;color:#000;font-weight:normal;letter-spacing:0px;">5 May 2019</div><div class="t " style="left:643.2px;top:806px;font-size:9.6px;color:#000;font-weight:normal;letter-spacing:0px;">23 May 2019</div><div class="t " style="left:707.2px;top:806px;font-size:9.6px;color:#000;font-weight:normal;letter-spacing:0px;">11 Jun 2019</div><div class="t " style="left:771.2px;top:806px;font-size:9.6px;color:#000;font-weight:normal;letter-spacing:0px;">30 Jun 2019</div><div class="t " style="left:835.2px;top:806px;font-size:9.6px;color:#000;font-weight:normal;letter-spacing:0px;">18 Jul 2019</div><div class="t " style="left:899.2px;top:806px;font-size:9.6px;color:#000;font-weight:normal;letter-spacing:0px;">6 Aug 2019</div><div class="t " style="left:963.2px;top:806px;font-size:9.6px;color:#000;font-weight:normal;letter-spacing:0px;">25 Aug 2019</div><div class="t " style="left:1027.2px;top:806px;font-size:9.6px;color:#000;font-weight:normal;letter-spacing:0px;">12 Sep 2019</div><div class="t " style="left:1091.2px;top:806px;font-size:9.6px;color:#000;font-weight:normal;letter-spacing:0px;">1 Oct 2019</div><div class="t " style="left:8.3px;top:571px;font-size:9.4px;color:#000;font-weight:normal;letter-spacing:0px;">MACD(12,26,9) 0.001664 0.001501</div><div class="t " style="left:8.3px;top:676px;font-size:9.4px;color:#000;font-weight:normal;letter-spacing:0px;">RSI(14) 53.0764</div><div class="t " style="left:19.5px;top:29px;font-size:9.8px;color:#000;font-weight:normal;letter-spacing:0px;">USDCAD-,Daily</div><div class="t " style="left:94px;top:29px;font-size:10px;color:#000;font-weight:normal;letter-spacing:-0.4px;">1.32868 1.32994 1.32863 1.32978</div><div class="t n" style="left:16.2px;top:829px;font-size:12px;color:#5c5c5c;font-weight:normal;letter-spacing:0.068px;">EURUSD-,Daily</div><div class="t n" style="left:123.2px;top:829px;font-size:12px;color:#5c5c5c;font-weight:normal;letter-spacing:0.259px;">AUDUSD-,Daily</div><div class="t n" style="left:233.1px;top:829px;font-size:12px;color:#5c5c5c;font-weight:normal;letter-spacing:0.058px;">USDCHF-,Daily</div><div class="t n" style="left:340.4px;top:829px;font-size:12px;color:#000;font-weight:normal;letter-spacing:0.184px;">USDCAD-,Daily</div><div class="t n" style="left:449.0px;top:829px;font-size:12px;color:#5c5c5c;font-weight:normal;letter-spacing:0.313px;">USDCNH-,Daily</div><div class="t n" style="left:560.3px;top:829px;font-size:12px;color:#5c5c5c;font-weight:normal;letter-spacing:0.096px;">EURCHF-,Weekly</div><div class="t n" style="left:680.6px;top:829px;font-size:12px;color:#5c5c5c;font-weight:normal;letter-spacing:0.372px;">XAUUSD-,Weekly</div><div class="t n" style="left:803.8px;top:829px;font-size:12px;color:#5c5c5c;font-weight:normal;letter-spacing:0.127px;">GBPUSD-,H1</div><div class="t n" style="left:900.5px;top:829px;font-size:12px;color:#5c5c5c;font-weight:normal;letter-spacing:0.473px;">UKOil-,H1</div><div class="t n" style="left:979.6px;top:829px;font-size:12px;color:#5c5c5c;font-weight:normal;letter-spacing:0.4px;">USDX-,Weekly</div><div class="t n" style="left:1083.7px;top:829px;font-size:12px;color:#5c5c5c;font-weight:normal;letter-spacing:-0.141px;">EURCHF-,H1</div><div class="t n" style="left:1177.5px;top:829px;font-size:12px;color:#5c5c5c;font-weight:normal;letter-spacing:0.323px;">USOil-,H1</div>

<div style="position:absolute;left:5px;top:43px;width:223px;height:68px;background:#fff;"></div>
<div style="position:absolute;left:7px;top:45px;width:52px;height:24px;box-sizing:border-box;border:1px solid #0000a8;border-bottom:none;border-right:none;background:linear-gradient(#5c5cff,#3a3aee);"></div>
<div style="position:absolute;left:174px;top:45px;width:52px;height:24px;box-sizing:border-box;border:1px solid #0000a8;border-bottom:none;background:linear-gradient(#5c5cff,#3a3aee);"></div>
<div style="position:absolute;left:7px;top:69px;width:109px;height:40px;box-sizing:border-box;border:1px solid #0000a8;border-top:none;background:linear-gradient(#2c2ce0,#0606b0);"></div>
<div style="position:absolute;left:118px;top:69px;width:108px;height:40px;box-sizing:border-box;border:1px solid #0000a8;border-top:none;background:linear-gradient(#2c2ce0,#0606b0);"></div>
<div style="position:absolute;left:11px;top:69px;width:44px;height:1px;background:#7272ff;"></div>
<div style="position:absolute;left:178px;top:69px;width:44px;height:1px;background:#7272ff;"></div>
<div style="position:absolute;left:61px;top:45px;width:111px;height:22px;background:#fff;border:1px solid #a8a8a8;box-sizing:border-box;"></div>
<div style="position:absolute;left:62px;top:46px;width:20px;height:20px;background:linear-gradient(#f4f4f4,#d6d6d6);border-right:1px solid #b8b8b8;box-sizing:border-box;"></div>
<div style="position:absolute;left:150px;top:46px;width:21px;height:20px;background:linear-gradient(#f4f4f4,#d6d6d6);border-left:1px solid #b8b8b8;box-sizing:border-box;"></div>

<svg width="1459" height="848" viewBox="0 0 1459 848" style="position:absolute;left:0;top:0"><path d="M69 54 L74 54 L71.5 57 Z" fill="#5868b0"/><path d="M158 57 L163 57 L160.5 54 Z" fill="#5868b0"/></svg>

<div class="t" style="left:19px;top:52px;font-size:11px;color:#fff;">SELL</div>
<div class="t" style="left:187px;top:51px;font-size:12px;color:#fff;">BUY</div>
<div class="t" style="left:123px;top:50px;font-size:12.4px;color:#000;">1.00</div>
<div class="t" style="left:27px;top:90px;font-size:12.6px;color:#fff;font-weight:bold;">1.32</div>
<div class="t" style="left:53px;top:70px;font-size:35px;color:#fff;">97</div>
<div class="t" style="left:93.6px;top:75px;font-size:12px;color:#fff;font-weight:bold;transform:scaleX(1.3);transform-origin:0 0;">8</div>
<div class="t" style="left:137px;top:90px;font-size:12.6px;color:#fff;font-weight:bold;">1.32</div>
<div class="t" style="left:164px;top:70px;font-size:35px;color:#fff;">99</div>
<div class="t" style="left:204.8px;top:75px;font-size:12px;color:#fff;font-weight:bold;transform:scaleX(1.3);transform-origin:0 0;">8</div>

</body></html>
